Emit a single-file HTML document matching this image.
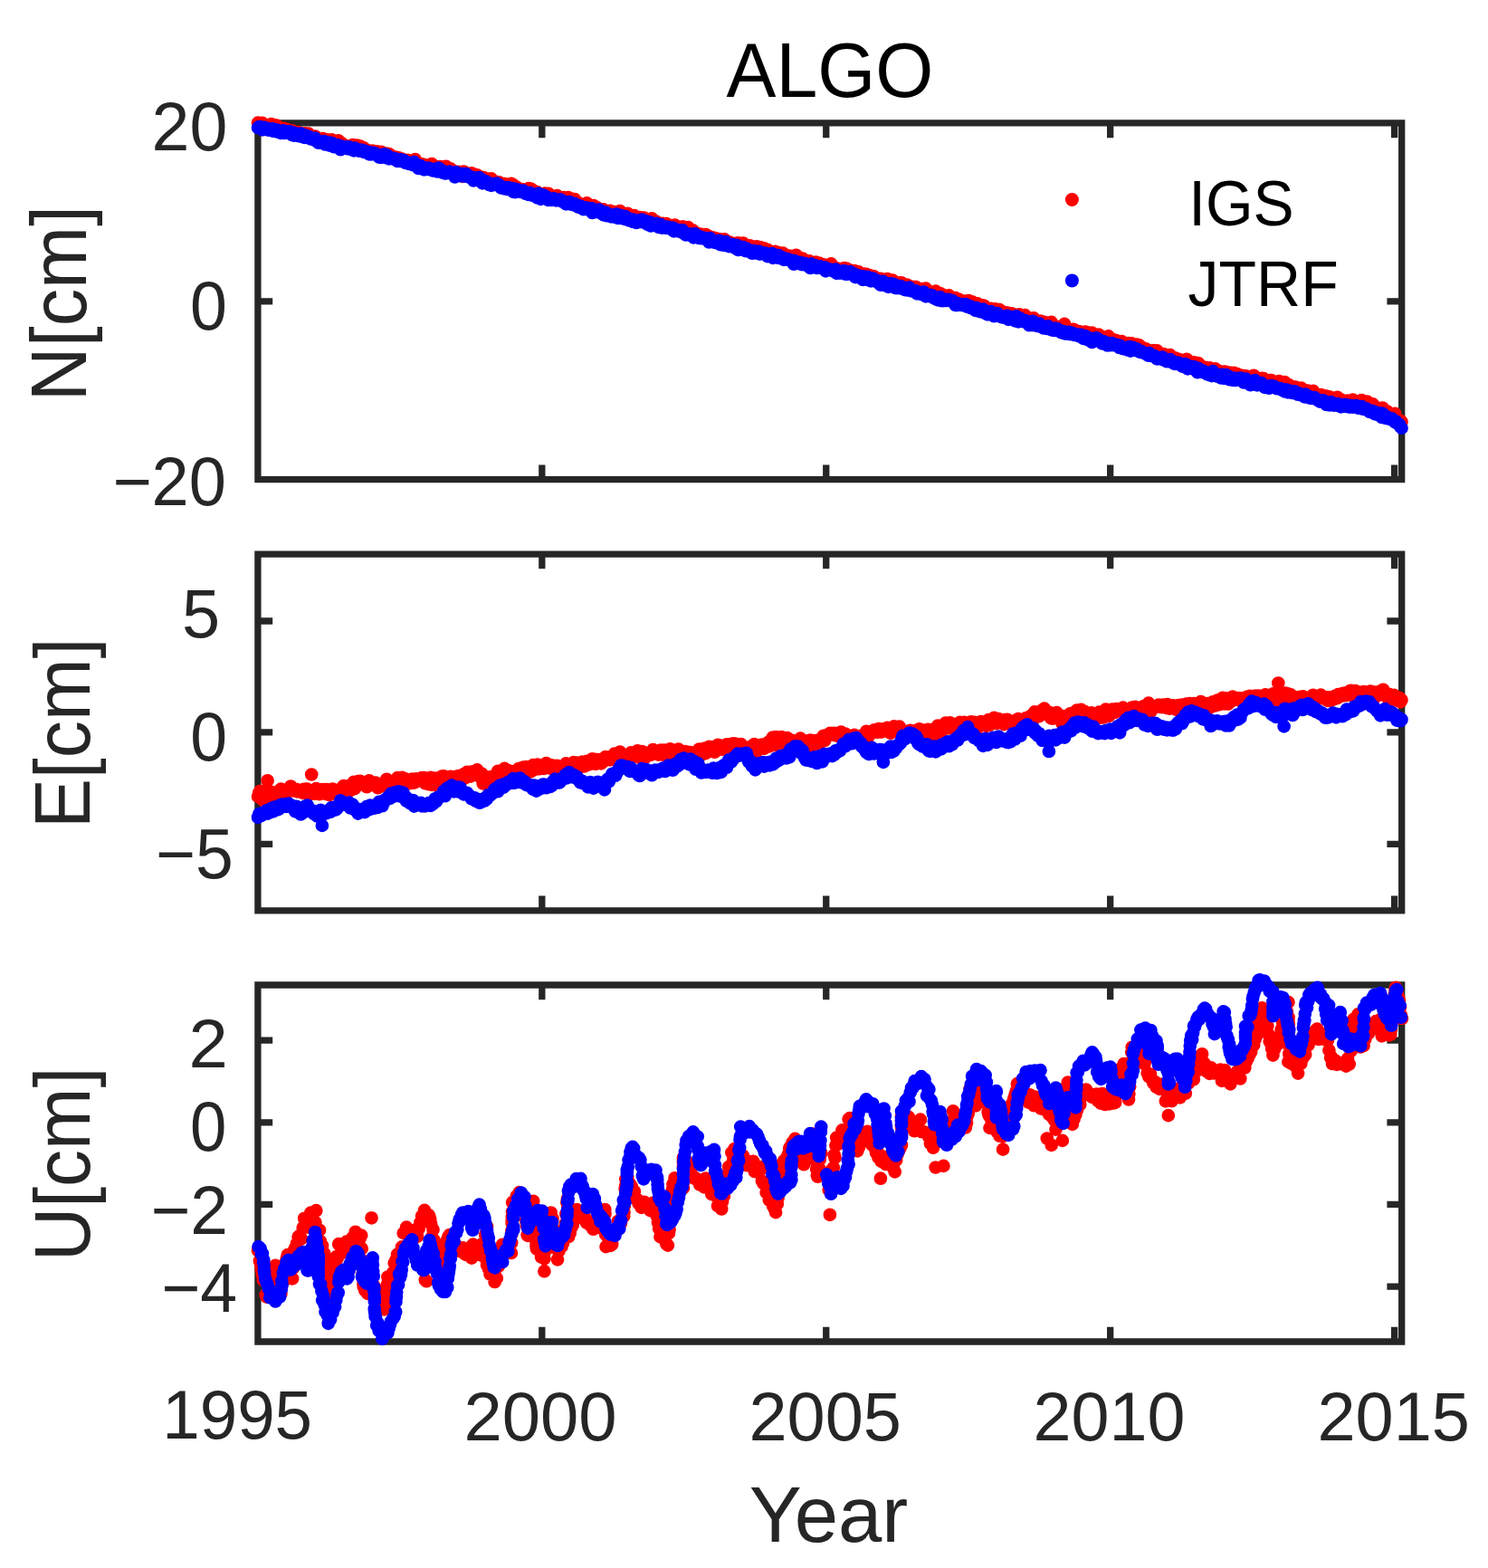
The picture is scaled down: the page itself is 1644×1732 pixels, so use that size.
<!DOCTYPE html>
<html><head><meta charset="utf-8"><title>ALGO</title>
<style>html,body{margin:0;padding:0;background:#fff;}svg{display:block;font-family:"Liberation Sans",Arial,Helvetica,sans-serif;}</style>
</head><body>
<svg width="1644" height="1732" viewBox="0 0 1644 1732">
<rect width="1644" height="1732" fill="#fff"/>
<path d="M284.90 135.90L1548.70 135.90M284.90 529.70L1548.70 529.70M284.90 135.90L284.90 529.70M1548.70 135.90L1548.70 529.70M284.90 529.70L284.90 517.06M284.90 135.90L284.90 148.54M598.82 529.70L598.82 517.06M598.82 135.90L598.82 148.54M912.75 529.70L912.75 517.06M912.75 135.90L912.75 148.54M1226.67 529.70L1226.67 517.06M1226.67 135.90L1226.67 148.54M1540.60 529.70L1540.60 517.06M1540.60 135.90L1540.60 148.54M284.90 135.90L297.54 135.90M1548.70 135.90L1536.06 135.90M284.90 332.80L297.54 332.80M1548.70 332.80L1536.06 332.80M284.90 529.70L297.54 529.70M1548.70 529.70L1536.06 529.70M284.90 612.05L1548.70 612.05M284.90 1005.90L1548.70 1005.90M284.90 612.05L284.90 1005.90M1548.70 612.05L1548.70 1005.90M284.90 1005.90L284.90 993.26M284.90 612.05L284.90 624.69M598.82 1005.90L598.82 993.26M598.82 612.05L598.82 624.69M912.75 1005.90L912.75 993.26M912.75 612.05L912.75 624.69M1226.67 1005.90L1226.67 993.26M1226.67 612.05L1226.67 624.69M1540.60 1005.90L1540.60 993.26M1540.60 612.05L1540.60 624.69M284.90 686.00L297.54 686.00M1548.70 686.00L1536.06 686.00M284.90 808.80L297.54 808.80M1548.70 808.80L1536.06 808.80M284.90 932.30L297.54 932.30M1548.70 932.30L1536.06 932.30M284.90 1088.00L1548.70 1088.00M284.90 1482.00L1548.70 1482.00M284.90 1088.00L284.90 1482.00M1548.70 1088.00L1548.70 1482.00M284.90 1482.00L284.90 1469.36M284.90 1088.00L284.90 1100.64M598.82 1482.00L598.82 1469.36M598.82 1088.00L598.82 1100.64M912.75 1482.00L912.75 1469.36M912.75 1088.00L912.75 1100.64M1226.67 1482.00L1226.67 1469.36M1226.67 1088.00L1226.67 1100.64M1540.60 1482.00L1540.60 1469.36M1540.60 1088.00L1540.60 1100.64M284.90 1149.20L297.54 1149.20M1548.70 1149.20L1536.06 1149.20M284.90 1239.80L297.54 1239.80M1548.70 1239.80L1536.06 1239.80M284.90 1330.30L297.54 1330.30M1548.70 1330.30L1536.06 1330.30M284.90 1421.10L297.54 1421.10M1548.70 1421.10L1536.06 1421.10" stroke="#262626" stroke-width="7.3" stroke-linecap="square" fill="none"/>
<path d="M285.0 135.6h0M286.2 137.0h0M287.4 136.3h0M288.6 136.4h0M289.9 135.9h0M291.1 137.2h0M292.3 139.3h0M293.5 138.7h0M294.7 139.8h0M295.9 139.0h0M297.1 139.5h0M298.4 139.5h0M299.6 137.2h0M300.8 141.1h0M302.0 140.9h0M303.2 141.1h0M304.4 138.4h0M305.6 138.6h0M306.9 140.1h0M308.1 141.0h0M309.3 142.4h0M310.5 142.2h0M311.7 143.3h0M312.9 141.9h0M314.1 143.6h0M315.4 144.0h0M316.6 142.8h0M317.8 146.4h0M319.0 145.1h0M320.2 146.3h0M321.4 144.1h0M322.7 144.3h0M323.9 145.2h0M325.1 145.9h0M326.3 147.3h0M327.5 147.1h0M328.8 146.4h0M330.0 146.1h0M331.2 147.0h0M332.4 149.8h0M333.6 147.3h0M334.8 149.1h0M336.1 149.7h0M337.3 147.4h0M338.5 149.9h0M339.7 152.0h0M340.9 147.7h0M342.2 150.4h0M343.4 151.0h0M344.6 150.4h0M345.8 152.6h0M347.0 152.1h0M348.2 150.5h0M349.5 154.1h0M350.7 154.2h0M351.9 154.9h0M353.1 155.9h0M354.3 154.8h0M355.6 154.8h0M356.8 153.1h0M358.0 156.2h0M359.2 154.7h0M360.4 155.2h0M361.7 154.3h0M362.9 155.0h0M364.1 155.9h0M365.3 158.7h0M366.5 154.4h0M367.8 155.4h0M369.0 158.1h0M370.2 160.0h0M371.4 159.1h0M372.6 155.9h0M373.8 155.3h0M375.1 159.6h0M376.3 158.3h0M377.5 158.1h0M378.7 161.3h0M379.9 161.7h0M381.2 160.7h0M382.4 161.1h0M383.6 161.6h0M384.8 163.5h0M386.0 162.4h0M387.2 162.5h0M388.5 162.9h0M389.7 160.2h0M390.9 164.4h0M392.1 164.2h0M393.3 163.9h0M394.6 160.7h0M395.8 162.8h0M397.0 165.2h0M398.2 161.7h0M399.4 164.3h0M400.6 166.3h0M401.8 163.3h0M403.0 167.7h0M404.3 166.5h0M405.5 165.8h0M406.7 166.7h0M407.9 167.5h0M409.1 167.0h0M410.3 168.8h0M411.5 166.5h0M412.7 167.1h0M413.9 169.5h0M415.1 168.3h0M416.4 167.4h0M417.6 170.2h0M418.8 171.2h0M420.0 168.8h0M421.2 167.8h0M422.4 169.8h0M423.6 170.1h0M424.8 170.2h0M426.0 172.9h0M427.2 169.7h0M428.4 173.2h0M429.7 170.0h0M430.9 170.9h0M432.1 173.2h0M433.3 174.2h0M434.5 174.1h0M435.7 173.7h0M436.9 173.7h0M438.1 174.1h0M439.3 175.0h0M440.6 174.3h0M441.8 175.3h0M443.0 176.1h0M444.2 175.6h0M445.4 177.1h0M446.6 177.1h0M447.9 179.5h0M449.1 177.5h0M450.3 176.8h0M451.5 177.2h0M452.7 178.1h0M453.9 179.7h0M455.1 178.3h0M456.4 179.7h0M457.6 182.1h0M458.8 176.2h0M460.0 178.6h0M461.2 180.9h0M462.4 181.4h0M463.7 181.6h0M464.9 181.0h0M466.1 182.8h0M467.3 182.7h0M468.5 181.9h0M469.7 186.4h0M471.0 183.8h0M472.2 182.9h0M473.4 183.9h0M474.6 184.1h0M475.8 184.5h0M477.0 181.0h0M478.3 184.3h0M479.5 186.7h0M480.7 183.8h0M481.9 185.6h0M483.1 187.2h0M484.4 187.3h0M485.6 188.4h0M486.8 184.2h0M488.0 186.3h0M489.2 186.5h0M490.4 188.1h0M491.7 189.0h0M492.9 183.9h0M494.1 189.4h0M495.3 186.1h0M496.5 189.3h0M497.8 186.4h0M499.0 189.0h0M500.2 190.6h0M501.4 189.0h0M502.6 189.7h0M503.9 190.7h0M505.1 190.0h0M506.3 189.9h0M507.5 192.4h0M508.7 192.0h0M509.9 190.3h0M511.2 194.8h0M512.4 189.5h0M513.6 192.6h0M514.8 191.4h0M516.0 192.3h0M517.2 193.4h0M518.5 193.1h0M519.7 194.1h0M520.9 191.4h0M522.1 191.8h0M523.3 195.2h0M524.5 193.3h0M525.8 193.6h0M527.0 193.3h0M528.2 197.5h0M529.4 197.2h0M530.6 198.5h0M531.8 195.5h0M533.0 197.2h0M534.3 196.0h0M535.5 199.0h0M536.7 200.5h0M537.9 197.4h0M539.1 201.2h0M540.3 200.8h0M541.6 199.5h0M542.8 197.4h0M544.0 202.5h0M545.2 200.7h0M546.4 200.4h0M547.6 202.2h0M548.9 202.5h0M550.1 204.4h0M551.3 201.3h0M552.5 204.6h0M553.7 205.4h0M554.9 205.7h0M556.1 203.7h0M557.4 203.2h0M558.6 206.0h0M559.8 205.0h0M561.0 205.3h0M562.2 207.5h0M563.4 205.4h0M564.7 202.8h0M565.9 205.8h0M567.1 204.1h0M568.3 208.1h0M569.5 207.7h0M570.7 206.7h0M572.0 207.8h0M573.2 209.3h0M574.4 208.6h0M575.6 210.6h0M576.8 209.0h0M578.0 210.8h0M579.2 211.7h0M580.5 212.2h0M581.7 209.3h0M582.9 211.8h0M584.1 208.2h0M585.3 209.6h0M586.5 208.7h0M587.8 213.2h0M589.0 210.3h0M590.2 212.3h0M591.4 212.4h0M592.6 212.9h0M593.8 212.4h0M595.0 213.8h0M596.2 216.3h0M597.4 214.1h0M598.7 215.1h0M599.9 216.1h0M601.1 214.7h0M602.3 213.5h0M603.5 214.7h0M604.7 217.3h0M605.9 213.8h0M607.1 215.5h0M608.3 218.1h0M609.5 218.1h0M610.8 217.3h0M612.0 218.7h0M613.2 218.0h0M614.4 216.5h0M615.6 216.2h0M616.8 217.8h0M618.0 220.3h0M619.2 218.5h0M620.4 218.3h0M621.6 218.7h0M622.9 218.0h0M624.1 220.2h0M625.3 219.0h0M626.5 221.5h0M627.7 218.0h0M628.9 222.0h0M630.1 221.0h0M631.3 219.5h0M632.6 223.6h0M633.8 222.6h0M635.0 220.2h0M636.2 222.5h0M637.4 224.5h0M638.6 223.8h0M639.9 225.9h0M641.1 226.2h0M642.3 226.4h0M643.5 226.3h0M644.7 228.1h0M646.0 227.5h0M647.2 227.6h0M648.4 224.4h0M649.6 228.9h0M650.8 229.8h0M652.1 228.0h0M653.3 228.1h0M654.5 231.8h0M655.7 227.0h0M656.9 230.5h0M658.1 233.6h0M659.4 229.2h0M660.6 231.9h0M661.8 233.9h0M663.0 231.4h0M664.2 232.7h0M665.5 233.6h0M666.7 231.4h0M667.9 232.9h0M669.1 233.7h0M670.3 234.7h0M671.5 233.8h0M672.8 233.8h0M674.0 232.9h0M675.2 234.1h0M676.4 236.1h0M677.6 235.3h0M678.8 234.2h0M680.1 234.5h0M681.3 239.6h0M682.5 237.7h0M683.7 237.3h0M684.9 233.0h0M686.1 237.8h0M687.3 237.9h0M688.6 239.8h0M689.8 238.3h0M691.0 237.9h0M692.2 239.0h0M693.4 235.8h0M694.6 240.2h0M695.9 239.5h0M697.1 238.3h0M698.3 241.4h0M699.5 242.3h0M700.7 238.1h0M701.9 239.4h0M703.2 241.0h0M704.4 241.1h0M705.6 240.5h0M706.8 240.0h0M708.0 244.6h0M709.2 243.4h0M710.4 240.5h0M711.7 240.6h0M712.9 245.1h0M714.1 244.4h0M715.3 245.9h0M716.5 244.7h0M717.7 242.7h0M719.0 244.5h0M720.2 241.4h0M721.4 243.7h0M722.6 244.9h0M723.8 246.0h0M725.0 244.6h0M726.2 245.7h0M727.5 246.8h0M728.7 247.0h0M729.9 247.6h0M731.1 247.3h0M732.3 246.8h0M733.5 248.7h0M734.8 247.9h0M736.0 247.0h0M737.2 247.6h0M738.4 248.7h0M739.6 248.8h0M740.8 249.5h0M742.1 249.6h0M743.3 250.1h0M744.5 250.0h0M745.7 248.7h0M746.9 251.4h0M748.1 252.6h0M749.3 252.1h0M750.6 251.6h0M751.8 252.8h0M753.0 251.2h0M754.2 250.3h0M755.4 253.4h0M756.6 252.4h0M757.9 255.1h0M759.1 252.9h0M760.3 251.1h0M761.5 253.6h0M762.7 257.7h0M763.9 255.3h0M765.2 254.3h0M766.4 255.5h0M767.6 257.6h0M768.8 257.9h0M770.0 257.9h0M771.2 260.0h0M772.4 259.3h0M773.7 258.7h0M774.9 259.9h0M776.1 261.7h0M777.3 261.1h0M778.5 261.6h0M779.7 259.0h0M781.0 260.6h0M782.2 262.2h0M783.4 261.1h0M784.6 263.4h0M785.8 263.1h0M787.0 263.8h0M788.3 262.6h0M789.5 266.8h0M790.7 265.2h0M791.9 263.5h0M793.1 264.3h0M794.4 268.1h0M795.6 264.3h0M796.8 266.3h0M798.0 266.8h0M799.2 265.7h0M800.4 264.4h0M801.7 266.6h0M802.9 267.2h0M804.1 268.6h0M805.3 268.4h0M806.5 267.7h0M807.8 269.2h0M809.0 269.0h0M810.2 268.9h0M811.4 269.0h0M812.6 268.9h0M813.9 270.5h0M815.1 268.4h0M816.3 269.3h0M817.5 270.5h0M818.7 268.8h0M819.9 270.5h0M821.2 268.7h0M822.4 270.8h0M823.6 272.9h0M824.8 273.2h0M826.0 272.6h0M827.2 272.6h0M828.5 271.3h0M829.7 276.1h0M830.9 274.5h0M832.1 275.6h0M833.3 273.1h0M834.5 274.4h0M835.8 272.4h0M837.0 276.3h0M838.2 276.8h0M839.4 273.1h0M840.6 276.0h0M841.8 277.3h0M843.0 274.2h0M844.3 274.4h0M845.5 275.7h0M846.7 276.6h0M847.9 275.8h0M849.1 278.1h0M850.3 278.7h0M851.6 279.5h0M852.8 279.9h0M854.0 281.3h0M855.2 281.1h0M856.4 277.9h0M857.6 279.4h0M858.9 278.9h0M860.1 279.1h0M861.3 280.8h0M862.5 281.2h0M863.7 282.2h0M864.9 279.6h0M866.1 280.4h0M867.4 282.4h0M868.6 282.5h0M869.8 282.7h0M871.0 283.3h0M872.2 282.7h0M873.4 285.0h0M874.7 284.9h0M875.9 284.6h0M877.1 284.1h0M878.3 285.1h0M879.5 281.8h0M880.7 284.6h0M882.0 286.3h0M883.2 284.5h0M884.4 287.2h0M885.6 287.5h0M886.8 285.6h0M888.0 287.5h0M889.2 287.8h0M890.5 289.2h0M891.7 289.7h0M892.9 289.1h0M894.1 288.3h0M895.3 289.6h0M896.5 290.0h0M897.8 291.5h0M899.0 291.2h0M900.2 290.1h0M901.4 289.5h0M902.6 291.1h0M903.8 290.8h0M905.0 290.5h0M906.2 292.2h0M907.4 291.9h0M908.7 293.0h0M909.9 293.8h0M911.1 292.7h0M912.3 296.8h0M913.5 293.3h0M914.7 295.5h0M915.9 294.4h0M917.1 296.0h0M918.3 291.4h0M919.5 293.9h0M920.8 295.5h0M922.0 296.2h0M923.2 298.9h0M924.4 296.3h0M925.6 297.9h0M926.8 297.4h0M928.0 297.9h0M929.2 297.5h0M930.4 296.8h0M931.6 298.0h0M932.9 296.0h0M934.1 299.4h0M935.3 296.6h0M936.5 298.6h0M937.7 301.4h0M938.9 298.4h0M940.1 299.1h0M941.3 301.0h0M942.6 299.8h0M943.8 299.0h0M945.0 300.8h0M946.2 301.6h0M947.4 302.1h0M948.6 300.4h0M949.9 304.3h0M951.1 304.5h0M952.3 302.6h0M953.5 303.3h0M954.7 302.6h0M956.0 305.6h0M957.2 302.9h0M958.4 305.2h0M959.6 304.0h0M960.8 304.0h0M962.1 306.3h0M963.3 307.6h0M964.5 306.0h0M965.7 305.4h0M966.9 307.9h0M968.1 307.0h0M969.4 307.9h0M970.6 309.9h0M971.8 309.7h0M973.0 307.8h0M974.2 312.0h0M975.5 309.2h0M976.7 310.6h0M977.9 309.0h0M979.1 310.1h0M980.3 308.0h0M981.5 313.3h0M982.8 313.0h0M984.0 309.7h0M985.2 309.6h0M986.4 309.7h0M987.6 313.9h0M988.8 311.9h0M990.1 312.8h0M991.3 312.7h0M992.5 313.3h0M993.7 312.3h0M994.9 314.1h0M996.1 312.4h0M997.3 314.6h0M998.6 315.4h0M999.8 315.9h0M1001.0 315.3h0M1002.2 314.6h0M1003.4 316.4h0M1004.6 315.8h0M1005.9 319.0h0M1007.1 318.1h0M1008.3 317.2h0M1009.5 317.0h0M1010.7 317.0h0M1011.9 317.0h0M1013.2 318.1h0M1014.4 319.3h0M1015.6 319.9h0M1016.8 320.3h0M1018.0 322.8h0M1019.2 319.2h0M1020.4 320.5h0M1021.7 324.8h0M1022.9 318.6h0M1024.1 320.8h0M1025.3 322.1h0M1026.5 322.4h0M1027.7 323.1h0M1029.0 322.6h0M1030.2 323.8h0M1031.4 323.7h0M1032.6 325.0h0M1033.8 321.6h0M1035.0 323.4h0M1036.2 325.0h0M1037.5 323.9h0M1038.7 324.2h0M1039.9 326.9h0M1041.1 325.4h0M1042.3 327.6h0M1043.5 328.1h0M1044.8 327.8h0M1046.0 328.4h0M1047.2 327.9h0M1048.4 326.4h0M1049.6 328.7h0M1050.8 329.7h0M1052.1 328.7h0M1053.3 329.6h0M1054.5 331.2h0M1055.7 329.2h0M1056.9 331.7h0M1058.1 333.8h0M1059.3 330.7h0M1060.6 332.1h0M1061.8 332.0h0M1063.0 334.7h0M1064.2 333.4h0M1065.4 334.5h0M1066.6 332.6h0M1067.9 333.9h0M1069.1 334.3h0M1070.3 332.2h0M1071.5 337.0h0M1072.7 336.6h0M1073.9 333.3h0M1075.2 337.1h0M1076.4 336.2h0M1077.6 337.4h0M1078.8 337.6h0M1080.0 335.4h0M1081.2 337.5h0M1082.4 340.2h0M1083.7 337.7h0M1084.9 337.4h0M1086.1 337.3h0M1087.3 337.8h0M1088.5 340.4h0M1089.7 342.6h0M1091.0 341.2h0M1092.2 341.3h0M1093.4 344.4h0M1094.6 340.9h0M1095.8 341.0h0M1097.0 343.0h0M1098.3 343.3h0M1099.5 341.4h0M1100.7 341.5h0M1101.9 343.9h0M1103.1 344.1h0M1104.3 342.2h0M1105.6 344.1h0M1106.8 343.9h0M1108.0 345.6h0M1109.2 345.1h0M1110.4 345.4h0M1111.7 345.4h0M1112.9 347.6h0M1114.1 348.4h0M1115.3 346.2h0M1116.5 348.2h0M1117.8 346.3h0M1119.0 347.8h0M1120.2 349.0h0M1121.4 350.4h0M1122.6 348.0h0M1123.8 348.7h0M1125.1 349.4h0M1126.3 347.4h0M1127.5 349.8h0M1128.7 349.1h0M1129.9 350.9h0M1131.2 349.1h0M1132.4 348.2h0M1133.6 351.3h0M1134.8 351.9h0M1136.0 351.1h0M1137.2 353.5h0M1138.5 352.2h0M1139.7 352.1h0M1140.9 353.9h0M1142.1 351.4h0M1143.3 352.9h0M1144.5 354.2h0M1145.8 355.7h0M1147.0 354.7h0M1148.2 355.7h0M1149.4 354.6h0M1150.6 356.3h0M1151.8 358.5h0M1153.0 355.6h0M1154.3 360.2h0M1155.5 356.3h0M1156.7 357.6h0M1157.9 358.1h0M1159.1 359.6h0M1160.3 356.8h0M1161.6 355.9h0M1162.8 360.0h0M1164.0 360.6h0M1165.2 360.7h0M1166.4 363.9h0M1167.6 360.8h0M1168.9 361.2h0M1170.1 362.5h0M1171.3 362.0h0M1172.5 364.2h0M1173.7 360.4h0M1174.9 361.9h0M1176.1 357.9h0M1177.4 364.1h0M1178.6 362.8h0M1179.8 364.9h0M1181.0 366.9h0M1182.2 364.1h0M1183.4 364.1h0M1184.7 364.0h0M1185.9 363.8h0M1187.1 364.4h0M1188.3 366.5h0M1189.5 365.9h0M1190.7 366.2h0M1192.0 366.2h0M1193.2 368.0h0M1194.4 367.7h0M1195.6 367.1h0M1196.8 368.5h0M1198.0 367.7h0M1199.2 366.5h0M1200.5 370.5h0M1201.7 369.4h0M1202.9 367.7h0M1204.1 370.8h0M1205.3 370.1h0M1206.5 367.7h0M1207.8 372.4h0M1209.0 370.9h0M1210.2 372.0h0M1211.4 371.3h0M1212.6 371.1h0M1213.8 369.5h0M1215.0 373.3h0M1216.2 372.3h0M1217.5 372.2h0M1218.7 373.4h0M1219.9 373.3h0M1221.1 374.4h0M1222.3 373.3h0M1223.5 374.1h0M1224.7 371.4h0M1225.9 374.1h0M1227.2 376.0h0M1228.4 377.2h0M1229.6 375.2h0M1230.8 375.8h0M1232.0 378.5h0M1233.2 376.1h0M1234.4 377.9h0M1235.6 379.6h0M1236.8 377.6h0M1238.1 379.5h0M1239.3 377.1h0M1240.5 378.7h0M1241.7 378.6h0M1242.9 379.2h0M1244.1 380.9h0M1245.3 383.0h0M1246.5 379.0h0M1247.8 379.5h0M1249.0 381.3h0M1250.2 379.4h0M1251.4 381.9h0M1252.6 382.3h0M1253.8 381.5h0M1255.0 383.1h0M1256.3 380.6h0M1257.5 384.2h0M1258.7 381.4h0M1259.9 383.0h0M1261.1 383.6h0M1262.3 384.2h0M1263.6 386.4h0M1264.8 385.7h0M1266.0 385.4h0M1267.2 387.1h0M1268.4 389.0h0M1269.6 387.2h0M1270.9 388.1h0M1272.1 389.7h0M1273.3 388.8h0M1274.5 387.0h0M1275.7 392.7h0M1276.9 392.7h0M1278.2 387.3h0M1279.4 390.4h0M1280.6 391.4h0M1281.8 392.6h0M1283.0 392.6h0M1284.2 391.7h0M1285.5 391.0h0M1286.7 393.0h0M1287.9 394.7h0M1289.1 392.2h0M1290.3 392.6h0M1291.5 394.5h0M1292.8 392.2h0M1294.0 394.9h0M1295.2 395.1h0M1296.4 396.7h0M1297.6 395.4h0M1298.8 395.5h0M1300.1 396.5h0M1301.3 397.4h0M1302.5 396.9h0M1303.7 398.2h0M1304.9 399.5h0M1306.1 400.5h0M1307.3 401.6h0M1308.6 398.4h0M1309.8 399.3h0M1311.0 396.8h0M1312.2 403.2h0M1313.4 399.9h0M1314.6 401.2h0M1315.8 402.4h0M1317.1 400.1h0M1318.3 403.0h0M1319.5 402.6h0M1320.7 400.5h0M1321.9 403.8h0M1323.1 405.4h0M1324.3 401.4h0M1325.6 405.5h0M1326.8 405.0h0M1328.0 405.8h0M1329.2 406.1h0M1330.4 407.6h0M1331.6 405.8h0M1332.8 407.7h0M1334.1 406.3h0M1335.3 408.2h0M1336.5 406.4h0M1337.7 407.7h0M1338.9 410.6h0M1340.1 409.0h0M1341.4 408.5h0M1342.6 407.4h0M1343.8 408.1h0M1345.0 409.8h0M1346.2 411.1h0M1347.4 410.6h0M1348.7 411.1h0M1349.9 410.5h0M1351.1 412.8h0M1352.3 410.6h0M1353.5 410.6h0M1354.7 412.9h0M1356.0 412.0h0M1357.2 411.8h0M1358.4 411.7h0M1359.6 412.4h0M1360.8 413.9h0M1362.0 413.8h0M1363.3 411.9h0M1364.5 414.4h0M1365.7 414.4h0M1366.9 413.0h0M1368.1 415.7h0M1369.3 414.5h0M1370.6 414.7h0M1371.8 416.6h0M1373.0 417.6h0M1374.2 415.0h0M1375.4 416.9h0M1376.6 415.3h0M1377.9 420.1h0M1379.1 416.4h0M1380.3 419.0h0M1381.5 416.7h0M1382.7 419.0h0M1384.0 421.2h0M1385.2 414.8h0M1386.4 418.0h0M1387.6 419.6h0M1388.8 419.0h0M1390.0 418.4h0M1391.3 422.6h0M1392.5 420.0h0M1393.7 417.8h0M1394.9 421.6h0M1396.1 418.2h0M1397.3 422.5h0M1398.6 420.3h0M1399.8 421.6h0M1401.0 423.4h0M1402.2 422.0h0M1403.4 420.2h0M1404.6 420.0h0M1405.9 424.3h0M1407.1 423.9h0M1408.3 422.0h0M1409.5 424.6h0M1410.7 424.3h0M1411.9 424.8h0M1413.2 421.0h0M1414.4 424.0h0M1415.6 425.9h0M1416.8 425.9h0M1418.0 426.4h0M1419.2 422.0h0M1420.5 425.9h0M1421.7 426.6h0M1422.9 429.7h0M1424.1 425.2h0M1425.3 426.4h0M1426.6 427.3h0M1427.8 428.9h0M1429.0 427.4h0M1430.2 430.0h0M1431.4 427.7h0M1432.6 429.6h0M1433.9 428.8h0M1435.1 430.2h0M1436.3 429.4h0M1437.5 428.5h0M1438.7 432.6h0M1439.9 431.9h0M1441.2 431.1h0M1442.4 432.5h0M1443.6 434.0h0M1444.8 431.6h0M1446.0 433.2h0M1447.2 434.5h0M1448.5 434.9h0M1449.7 434.0h0M1450.9 431.9h0M1452.1 437.0h0M1453.3 436.1h0M1454.5 436.0h0M1455.8 436.0h0M1457.0 437.1h0M1458.2 436.6h0M1459.4 436.1h0M1460.6 436.9h0M1461.8 437.5h0M1463.1 437.8h0M1464.3 437.4h0M1465.5 440.3h0M1466.7 437.8h0M1467.9 440.7h0M1469.2 438.6h0M1470.4 440.7h0M1471.6 442.3h0M1472.8 440.9h0M1474.0 439.8h0M1475.2 441.0h0M1476.5 441.4h0M1477.7 438.9h0M1478.9 440.7h0M1480.1 442.0h0M1481.3 441.3h0M1482.5 442.3h0M1483.8 443.4h0M1485.0 443.6h0M1486.2 444.0h0M1487.4 443.7h0M1488.6 442.7h0M1489.8 443.3h0M1491.1 443.1h0M1492.3 443.3h0M1493.5 443.6h0M1494.7 441.7h0M1495.9 443.8h0M1497.1 444.4h0M1498.4 443.3h0M1499.6 444.8h0M1500.8 445.8h0M1502.0 445.0h0M1503.2 448.3h0M1504.4 442.0h0M1505.7 445.5h0M1506.9 443.5h0M1508.1 447.6h0M1509.3 450.4h0M1510.6 443.6h0M1511.8 447.8h0M1513.0 448.8h0M1514.2 448.1h0M1515.5 449.8h0M1516.7 446.4h0M1517.9 451.2h0M1519.1 451.0h0M1520.4 450.9h0M1521.6 450.6h0M1522.8 452.7h0M1524.0 451.6h0M1525.3 453.1h0M1526.5 452.5h0M1527.7 450.6h0M1529.0 454.2h0M1530.2 454.9h0M1531.4 456.2h0M1532.6 454.4h0M1533.9 456.0h0M1535.1 457.4h0M1536.3 457.2h0M1537.5 459.2h0M1538.8 460.7h0M1540.0 457.2h0M1541.2 456.9h0M1542.4 462.0h0M1543.6 464.2h0M1544.9 464.6h0M1546.1 465.6h0M1547.3 464.8h0M1548.5 465.9h0" stroke="#ff0000" stroke-width="14.70" stroke-linecap="round" fill="none"/>
<path d="M285.0 879.9h0M286.2 875.8h0M287.4 873.8h0M288.6 875.6h0M289.8 883.2h0M291.1 881.9h0M292.3 876.1h0M293.5 875.9h0M294.7 878.0h0M295.9 875.8h0M297.1 880.3h0M298.3 877.2h0M299.5 874.9h0M300.7 880.1h0M301.9 875.9h0M303.1 877.6h0M304.4 877.1h0M305.6 876.4h0M306.8 877.7h0M308.0 875.4h0M309.2 872.8h0M310.4 871.7h0M311.6 873.4h0M312.8 874.1h0M314.0 875.3h0M315.2 875.1h0M316.4 875.9h0M317.6 874.5h0M318.8 872.1h0M320.0 871.9h0M321.2 868.5h0M322.4 872.4h0M323.6 873.4h0M324.8 873.2h0M326.0 871.9h0M327.2 871.9h0M328.4 874.4h0M329.6 872.5h0M330.9 874.2h0M332.1 874.0h0M333.3 873.3h0M334.5 875.9h0M335.7 871.9h0M336.9 872.5h0M338.1 871.6h0M339.4 871.7h0M340.6 877.0h0M341.8 877.6h0M343.0 873.9h0M344.2 875.3h0M345.4 876.6h0M346.7 875.8h0M347.9 876.7h0M349.2 871.2h0M350.4 872.6h0M351.7 875.0h0M352.9 877.2h0M354.2 874.2h0M355.4 872.1h0M356.7 873.2h0M357.9 872.5h0M359.1 872.0h0M360.3 877.1h0M361.5 872.2h0M362.8 873.5h0M364.0 878.1h0M365.2 875.9h0M366.4 873.9h0M367.6 871.7h0M368.8 873.8h0M370.0 876.3h0M371.2 874.0h0M372.4 875.3h0M373.7 872.6h0M374.9 873.4h0M376.1 871.7h0M377.3 872.9h0M378.5 874.4h0M379.7 868.0h0M381.0 870.6h0M382.2 870.8h0M383.4 868.6h0M384.6 868.8h0M385.8 870.8h0M387.1 873.0h0M388.3 869.6h0M389.5 868.5h0M390.7 863.9h0M391.9 871.1h0M393.1 866.6h0M394.4 866.0h0M395.6 863.2h0M396.8 865.1h0M398.0 862.9h0M399.2 865.6h0M400.5 866.6h0M401.7 865.8h0M402.9 866.4h0M404.1 864.1h0M405.3 869.2h0M406.6 864.8h0M407.8 862.3h0M409.0 866.0h0M410.2 864.9h0M411.4 864.5h0M412.6 866.0h0M413.9 867.6h0M415.1 864.5h0M416.3 866.9h0M417.5 870.2h0M418.7 868.5h0M419.9 866.5h0M421.1 867.0h0M422.4 866.3h0M423.6 866.3h0M424.8 867.9h0M426.0 866.0h0M427.2 860.8h0M428.4 865.9h0M429.6 863.9h0M430.9 867.1h0M432.1 864.2h0M433.3 865.8h0M434.5 870.1h0M435.7 862.9h0M436.9 862.4h0M438.1 861.5h0M439.4 859.0h0M440.6 859.8h0M441.8 864.5h0M443.0 862.0h0M444.2 858.9h0M445.4 859.5h0M446.7 863.8h0M447.9 860.4h0M449.1 861.0h0M450.3 862.3h0M451.5 864.2h0M452.8 865.2h0M454.0 862.9h0M455.2 860.6h0M456.4 860.9h0M457.6 864.6h0M458.8 864.0h0M460.1 860.4h0M461.3 862.2h0M462.5 862.1h0M463.7 861.7h0M464.9 860.7h0M466.1 859.1h0M467.3 861.0h0M468.5 859.0h0M469.8 865.2h0M471.0 863.9h0M472.2 860.3h0M473.4 866.2h0M474.6 865.3h0M475.8 858.9h0M477.0 866.9h0M478.3 864.4h0M479.5 867.0h0M480.7 859.5h0M481.9 863.2h0M483.1 862.7h0M484.4 862.0h0M485.6 861.7h0M486.8 863.4h0M488.0 857.6h0M489.2 857.9h0M490.4 857.4h0M491.7 859.0h0M492.9 858.7h0M494.1 860.6h0M495.3 860.2h0M496.5 859.6h0M497.8 857.9h0M499.0 858.2h0M500.2 861.1h0M501.4 860.6h0M502.6 859.0h0M503.9 857.9h0M505.1 861.9h0M506.3 857.0h0M507.5 859.6h0M508.7 860.5h0M509.9 857.3h0M511.2 859.5h0M512.4 855.1h0M513.6 859.6h0M514.8 857.3h0M516.1 852.9h0M517.3 857.3h0M518.5 853.3h0M519.8 857.6h0M521.0 852.7h0M522.3 853.3h0M523.5 853.8h0M524.7 851.9h0M526.0 852.7h0M527.2 850.4h0M528.5 855.3h0M529.8 856.1h0M531.1 858.9h0M532.4 854.6h0M533.7 865.5h0M535.0 865.3h0M536.2 860.4h0M537.5 863.6h0M538.8 863.5h0M540.0 864.0h0M541.2 858.3h0M542.5 863.2h0M543.8 858.5h0M545.0 863.3h0M546.2 856.8h0M547.5 857.7h0M548.8 854.5h0M550.0 851.9h0M551.2 855.9h0M552.5 854.6h0M553.7 856.0h0M554.9 854.5h0M556.1 851.3h0M557.4 848.9h0M558.6 851.2h0M559.8 851.1h0M561.0 850.8h0M562.2 853.9h0M563.4 853.3h0M564.6 852.0h0M565.8 853.0h0M567.0 852.3h0M568.3 853.1h0M569.5 854.3h0M570.7 854.7h0M571.9 851.1h0M573.1 849.0h0M574.3 855.1h0M575.6 851.9h0M576.8 853.8h0M578.0 847.5h0M579.2 850.0h0M580.4 850.5h0M581.6 847.0h0M582.9 848.7h0M584.1 851.1h0M585.3 851.6h0M586.5 852.4h0M587.7 846.7h0M589.0 845.2h0M590.2 849.2h0M591.4 849.8h0M592.6 848.1h0M593.8 844.7h0M595.0 849.2h0M596.2 849.2h0M597.4 848.6h0M598.7 846.2h0M599.9 847.9h0M601.1 848.9h0M602.3 845.9h0M603.5 843.0h0M604.7 847.7h0M605.9 848.0h0M607.1 846.9h0M608.3 848.7h0M609.5 845.4h0M610.7 846.5h0M611.9 845.9h0M613.2 847.8h0M614.4 850.0h0M615.6 845.8h0M616.8 850.9h0M618.0 849.6h0M619.2 847.9h0M620.4 847.4h0M621.6 849.9h0M622.9 845.6h0M624.1 845.6h0M625.3 843.4h0M626.5 846.7h0M627.7 848.6h0M628.9 846.7h0M630.1 846.4h0M631.4 844.9h0M632.6 845.7h0M633.8 842.1h0M635.0 847.4h0M636.2 844.1h0M637.5 842.5h0M638.7 843.2h0M639.9 843.0h0M641.1 846.6h0M642.3 846.9h0M643.5 841.5h0M644.8 846.5h0M646.0 846.3h0M647.2 843.0h0M648.4 840.9h0M649.6 842.3h0M650.8 842.2h0M652.0 844.1h0M653.3 842.3h0M654.5 838.3h0M655.7 843.0h0M656.9 838.8h0M658.1 843.9h0M659.4 839.0h0M660.6 839.8h0M661.8 839.2h0M663.0 839.6h0M664.2 843.4h0M665.4 842.1h0M666.6 841.3h0M667.9 840.4h0M669.1 836.0h0M670.3 838.0h0M671.5 837.6h0M672.7 836.4h0M674.0 839.4h0M675.2 836.3h0M676.4 836.1h0M677.6 835.1h0M678.8 832.7h0M680.0 838.4h0M681.2 839.8h0M682.5 837.1h0M683.7 834.4h0M684.9 830.5h0M686.1 836.6h0M687.3 838.8h0M688.5 836.6h0M689.8 837.8h0M691.0 838.9h0M692.2 837.9h0M693.4 834.3h0M694.6 837.4h0M695.9 836.7h0M697.1 831.4h0M698.3 833.7h0M699.5 831.3h0M700.7 834.1h0M701.9 835.4h0M703.1 831.6h0M704.4 829.3h0M705.6 836.5h0M706.8 834.3h0M708.0 836.5h0M709.3 830.2h0M710.5 835.2h0M711.7 837.2h0M712.9 836.9h0M714.2 831.8h0M715.4 832.7h0M716.6 831.5h0M717.8 833.8h0M719.1 833.7h0M720.3 831.4h0M721.5 828.0h0M722.7 832.5h0M724.0 829.6h0M725.2 831.8h0M726.4 830.8h0M727.6 833.6h0M728.9 832.3h0M730.1 828.6h0M731.3 830.5h0M732.5 833.7h0M733.7 828.7h0M734.9 831.0h0M736.2 832.7h0M737.4 833.0h0M738.6 831.4h0M739.8 827.5h0M741.0 827.7h0M742.2 831.1h0M743.4 831.6h0M744.6 836.4h0M745.8 829.0h0M747.0 833.5h0M748.3 832.8h0M749.5 827.5h0M750.7 829.5h0M751.9 831.8h0M753.1 830.4h0M754.3 831.3h0M755.5 832.7h0M756.7 830.0h0M757.9 832.9h0M759.1 830.6h0M760.4 830.9h0M761.6 833.4h0M762.8 831.0h0M764.0 833.0h0M765.2 836.0h0M766.4 832.2h0M767.6 831.5h0M768.9 833.0h0M770.1 830.2h0M771.3 833.1h0M772.5 827.5h0M773.7 831.3h0M774.9 828.5h0M776.1 827.5h0M777.4 832.8h0M778.6 826.6h0M779.8 832.0h0M781.0 829.2h0M782.2 830.6h0M783.5 824.9h0M784.7 829.3h0M785.9 829.5h0M787.1 825.7h0M788.3 825.3h0M789.5 830.7h0M790.8 825.3h0M792.0 823.6h0M793.2 822.8h0M794.4 824.8h0M795.6 824.6h0M796.8 824.4h0M798.0 827.9h0M799.3 823.6h0M800.5 825.4h0M801.7 827.7h0M802.9 822.4h0M804.1 827.1h0M805.4 828.9h0M806.6 822.0h0M807.8 822.7h0M809.0 823.0h0M810.2 821.3h0M811.4 826.5h0M812.6 821.5h0M813.9 826.8h0M815.1 829.1h0M816.3 822.4h0M817.5 825.4h0M818.7 822.0h0M820.0 828.1h0M821.2 824.8h0M822.4 826.0h0M823.6 826.8h0M824.8 827.9h0M826.0 825.9h0M827.2 826.6h0M828.5 825.3h0M829.7 826.8h0M830.9 823.9h0M832.1 826.6h0M833.3 822.1h0M834.5 825.3h0M835.7 830.5h0M836.9 826.5h0M838.1 823.5h0M839.4 826.8h0M840.6 824.0h0M841.8 822.5h0M843.0 824.5h0M844.2 826.9h0M845.4 825.4h0M846.6 823.6h0M847.8 821.0h0M849.0 819.8h0M850.2 824.4h0M851.4 821.2h0M852.6 817.8h0M853.8 814.5h0M855.0 815.3h0M856.2 823.0h0M857.4 814.2h0M858.6 815.8h0M859.8 816.8h0M861.1 816.3h0M862.3 816.3h0M863.5 814.2h0M864.7 815.2h0M866.0 821.5h0M867.2 816.5h0M868.4 820.3h0M869.6 815.0h0M870.9 818.4h0M872.1 819.9h0M873.3 821.9h0M874.5 817.5h0M875.8 821.6h0M877.0 821.4h0M878.2 819.3h0M879.4 822.2h0M880.7 819.5h0M881.9 820.0h0M883.1 821.6h0M884.3 815.6h0M885.6 821.2h0M886.8 819.1h0M888.0 818.0h0M889.2 820.2h0M890.4 822.6h0M891.6 820.0h0M892.9 823.5h0M894.1 818.1h0M895.3 817.6h0M896.5 823.8h0M897.7 821.1h0M899.0 822.2h0M900.2 818.2h0M901.4 821.7h0M902.6 819.9h0M903.8 820.2h0M905.0 818.3h0M906.2 820.3h0M907.4 815.7h0M908.6 814.5h0M909.8 812.8h0M911.1 818.0h0M912.3 813.3h0M913.5 812.1h0M914.7 811.7h0M915.9 812.3h0M917.1 809.9h0M918.3 811.5h0M919.5 810.2h0M920.7 810.6h0M921.9 809.9h0M923.1 812.3h0M924.4 811.5h0M925.6 812.9h0M926.8 813.4h0M928.0 813.9h0M929.2 808.5h0M930.5 812.4h0M931.7 812.0h0M932.9 815.7h0M934.1 810.7h0M935.3 812.8h0M936.5 814.0h0M937.8 814.1h0M939.0 817.2h0M940.2 814.3h0M941.4 817.6h0M942.6 812.5h0M943.8 811.9h0M945.1 818.8h0M946.3 817.3h0M947.5 817.7h0M948.7 817.1h0M949.9 817.2h0M951.2 812.8h0M952.4 816.9h0M953.6 813.0h0M954.8 815.7h0M956.1 813.0h0M957.3 807.8h0M958.5 808.7h0M959.7 813.3h0M961.0 809.9h0M962.2 808.6h0M963.4 809.4h0M964.6 807.2h0M965.9 806.3h0M967.1 807.1h0M968.3 806.5h0M969.5 808.9h0M970.8 805.0h0M972.0 808.3h0M973.2 808.4h0M974.4 808.3h0M975.6 807.1h0M976.8 805.2h0M978.0 805.4h0M979.2 805.0h0M980.4 803.9h0M981.6 805.5h0M982.8 804.5h0M984.0 809.7h0M985.3 807.4h0M986.5 805.4h0M987.7 802.4h0M988.9 806.7h0M990.1 806.1h0M991.3 804.8h0M992.5 804.9h0M993.7 802.6h0M994.9 809.0h0M996.1 807.8h0M997.3 813.8h0M998.5 808.1h0M999.7 807.8h0M1000.9 811.4h0M1002.2 808.5h0M1003.4 808.6h0M1004.6 807.4h0M1005.8 806.9h0M1007.0 811.6h0M1008.2 810.5h0M1009.5 812.1h0M1010.7 807.6h0M1011.9 808.5h0M1013.1 806.5h0M1014.3 810.6h0M1015.5 805.4h0M1016.8 809.7h0M1018.0 810.9h0M1019.2 811.7h0M1020.4 806.5h0M1021.6 811.0h0M1022.9 807.1h0M1024.1 807.0h0M1025.3 805.8h0M1026.5 811.2h0M1027.7 811.9h0M1028.9 806.6h0M1030.2 805.8h0M1031.4 806.3h0M1032.6 812.2h0M1033.8 808.5h0M1035.0 804.7h0M1036.2 801.5h0M1037.5 803.6h0M1038.7 807.2h0M1039.9 808.3h0M1041.1 803.2h0M1042.3 801.9h0M1043.6 801.9h0M1044.8 798.5h0M1046.0 804.2h0M1047.2 799.8h0M1048.4 804.5h0M1049.7 798.4h0M1050.9 799.3h0M1052.1 802.8h0M1053.3 800.4h0M1054.5 803.8h0M1055.7 802.1h0M1057.0 799.5h0M1058.2 803.4h0M1059.4 803.9h0M1060.6 797.8h0M1061.8 806.0h0M1063.0 803.1h0M1064.2 803.6h0M1065.5 797.8h0M1066.7 800.3h0M1067.9 801.1h0M1069.1 804.3h0M1070.3 798.7h0M1071.5 799.9h0M1072.8 797.4h0M1074.0 801.3h0M1075.2 802.6h0M1076.4 797.8h0M1077.6 799.9h0M1078.8 802.0h0M1080.0 804.1h0M1081.3 801.8h0M1082.5 799.3h0M1083.7 797.1h0M1084.9 797.3h0M1086.1 797.6h0M1087.3 799.1h0M1088.5 798.4h0M1089.8 801.9h0M1091.0 798.5h0M1092.2 795.2h0M1093.4 800.7h0M1094.6 799.1h0M1095.8 797.2h0M1097.0 795.4h0M1098.3 792.9h0M1099.5 794.8h0M1100.7 799.0h0M1101.9 795.2h0M1103.1 794.1h0M1104.3 797.4h0M1105.6 797.5h0M1106.8 798.3h0M1108.0 798.4h0M1109.2 800.1h0M1110.4 795.2h0M1111.7 799.2h0M1112.9 794.8h0M1114.1 798.5h0M1115.3 797.3h0M1116.5 797.3h0M1117.8 798.8h0M1119.0 796.5h0M1120.2 798.8h0M1121.4 798.2h0M1122.6 796.4h0M1123.8 794.8h0M1125.1 794.2h0M1126.3 794.6h0M1127.5 795.2h0M1128.7 795.4h0M1129.9 801.9h0M1131.2 796.7h0M1132.4 796.8h0M1133.6 793.1h0M1134.8 793.0h0M1136.0 793.4h0M1137.2 794.1h0M1138.4 791.0h0M1139.5 796.4h0M1140.7 791.2h0M1141.9 794.4h0M1143.1 786.4h0M1144.3 791.1h0M1145.5 791.3h0M1146.7 790.7h0M1147.9 791.2h0M1149.1 790.1h0M1150.2 789.4h0M1151.4 784.4h0M1152.6 786.6h0M1153.8 782.6h0M1155.0 788.7h0M1156.2 788.4h0M1157.5 787.7h0M1158.8 786.7h0M1160.0 787.7h0M1161.2 793.4h0M1162.5 793.6h0M1163.8 790.1h0M1165.0 793.4h0M1166.2 787.5h0M1167.5 787.2h0M1168.8 790.8h0M1170.0 790.3h0M1171.2 791.5h0M1172.5 793.5h0M1173.7 799.5h0M1174.9 791.2h0M1176.2 792.5h0M1177.4 792.7h0M1178.6 791.8h0M1179.8 793.7h0M1181.0 795.3h0M1182.2 788.4h0M1183.5 791.3h0M1184.7 790.1h0M1185.9 791.2h0M1187.1 786.8h0M1188.3 786.1h0M1189.6 784.6h0M1190.8 790.6h0M1192.0 789.6h0M1193.2 789.3h0M1194.5 783.9h0M1195.8 788.2h0M1197.0 787.4h0M1198.2 785.9h0M1199.5 786.9h0M1200.8 790.4h0M1202.0 790.0h0M1203.2 788.8h0M1204.5 789.9h0M1205.8 787.4h0M1207.0 788.8h0M1208.2 788.7h0M1209.5 789.8h0M1210.8 788.4h0M1212.0 788.2h0M1213.2 788.0h0M1214.4 786.7h0M1215.6 792.9h0M1216.8 789.0h0M1218.0 788.6h0M1219.2 792.5h0M1220.4 790.4h0M1221.6 783.7h0M1222.8 788.5h0M1224.0 788.7h0M1225.2 790.8h0M1226.4 789.4h0M1227.5 788.0h0M1228.7 783.6h0M1229.9 784.1h0M1231.1 786.4h0M1232.3 786.8h0M1233.5 783.2h0M1234.7 784.5h0M1235.9 784.3h0M1237.1 785.1h0M1238.3 785.5h0M1239.5 784.0h0M1240.7 781.7h0M1241.9 787.0h0M1243.1 787.7h0M1244.4 783.8h0M1245.6 786.1h0M1246.8 784.7h0M1248.1 785.0h0M1249.3 784.5h0M1250.5 781.6h0M1251.7 784.4h0M1253.0 785.2h0M1254.2 780.9h0M1255.4 787.0h0M1256.7 787.1h0M1257.9 786.4h0M1259.1 786.6h0M1260.4 783.7h0M1261.6 781.2h0M1262.8 780.5h0M1264.1 779.9h0M1265.3 781.8h0M1266.5 781.3h0M1267.7 782.7h0M1269.0 776.6h0M1270.2 786.0h0M1271.4 785.8h0M1272.7 780.6h0M1273.9 782.0h0M1275.1 781.5h0M1276.4 781.1h0M1277.6 780.0h0M1278.8 780.2h0M1280.0 778.7h0M1281.3 780.9h0M1282.5 780.4h0M1283.7 781.2h0M1284.9 778.6h0M1286.2 780.6h0M1287.4 780.6h0M1288.6 781.8h0M1289.8 778.2h0M1291.1 781.4h0M1292.3 782.7h0M1293.5 781.8h0M1294.8 779.7h0M1296.0 779.4h0M1297.2 780.0h0M1298.4 782.1h0M1299.7 783.9h0M1300.9 780.2h0M1302.1 779.1h0M1303.3 781.3h0M1304.6 780.9h0M1305.8 778.5h0M1307.0 778.8h0M1308.3 780.1h0M1309.5 781.7h0M1310.7 777.5h0M1311.9 777.8h0M1313.2 781.0h0M1314.4 777.1h0M1315.6 779.9h0M1316.8 780.4h0M1318.1 779.3h0M1319.3 777.2h0M1320.5 779.2h0M1321.8 778.5h0M1323.0 779.8h0M1324.2 777.2h0M1325.4 781.3h0M1326.7 775.1h0M1327.9 778.3h0M1329.1 778.6h0M1330.3 780.6h0M1331.6 777.1h0M1332.8 779.5h0M1334.0 777.0h0M1335.2 779.7h0M1336.5 781.8h0M1337.7 777.0h0M1338.9 778.6h0M1340.1 775.3h0M1341.3 779.2h0M1342.5 779.5h0M1343.7 776.6h0M1344.9 773.7h0M1346.1 776.8h0M1347.3 778.2h0M1348.5 777.8h0M1349.7 776.9h0M1350.9 770.8h0M1352.2 773.1h0M1353.4 777.4h0M1354.6 771.3h0M1355.8 776.2h0M1357.0 777.6h0M1358.2 774.8h0M1359.4 775.4h0M1360.6 771.9h0M1361.8 769.6h0M1363.0 771.8h0M1364.2 771.3h0M1365.4 771.4h0M1366.6 773.0h0M1367.8 771.1h0M1369.0 771.9h0M1370.2 772.4h0M1371.4 771.4h0M1372.6 775.4h0M1373.8 772.3h0M1375.1 771.5h0M1376.3 770.9h0M1377.5 769.9h0M1378.7 774.2h0M1379.9 771.6h0M1381.1 768.9h0M1382.3 770.0h0M1383.5 770.9h0M1384.7 770.2h0M1385.9 773.5h0M1387.1 768.6h0M1388.3 772.2h0M1389.5 771.4h0M1390.7 768.5h0M1391.9 771.2h0M1393.2 770.8h0M1394.4 772.1h0M1395.6 770.0h0M1396.8 771.6h0M1398.0 767.3h0M1399.2 768.6h0M1400.4 772.6h0M1401.6 773.2h0M1402.8 770.9h0M1404.1 769.6h0M1405.3 773.4h0M1406.5 766.4h0M1407.7 769.3h0M1409.0 772.5h0M1410.2 772.5h0M1411.4 768.8h0M1412.6 767.0h0M1413.9 774.3h0M1415.1 771.5h0M1416.3 769.2h0M1417.5 771.3h0M1418.8 773.2h0M1420.0 765.5h0M1421.2 773.7h0M1422.5 772.9h0M1423.7 766.7h0M1424.9 773.0h0M1426.1 767.4h0M1427.4 773.9h0M1428.6 772.3h0M1429.8 776.4h0M1431.0 770.1h0M1432.3 771.5h0M1433.5 773.8h0M1434.7 770.1h0M1436.0 770.0h0M1437.2 770.8h0M1438.4 771.5h0M1439.7 769.3h0M1440.9 772.8h0M1442.1 773.0h0M1443.3 772.0h0M1444.6 775.6h0M1445.8 771.2h0M1447.0 774.8h0M1448.3 770.8h0M1449.5 773.7h0M1450.7 767.8h0M1452.0 772.6h0M1453.2 771.8h0M1454.4 771.1h0M1455.7 770.9h0M1456.9 771.5h0M1458.1 770.8h0M1459.3 767.6h0M1460.6 771.1h0M1461.8 771.3h0M1463.0 771.4h0M1464.3 770.2h0M1465.5 772.3h0M1466.7 773.9h0M1467.9 771.3h0M1469.0 770.3h0M1470.2 774.0h0M1471.4 772.8h0M1472.6 772.3h0M1473.8 772.4h0M1475.0 768.8h0M1476.2 768.8h0M1477.3 771.2h0M1478.5 767.1h0M1479.7 767.7h0M1480.9 768.4h0M1482.1 768.0h0M1483.2 766.2h0M1484.4 768.5h0M1485.6 765.6h0M1486.8 767.2h0M1488.0 768.0h0M1489.2 767.1h0M1490.3 767.3h0M1491.5 763.2h0M1492.7 762.9h0M1493.9 764.4h0M1495.1 766.9h0M1496.3 769.2h0M1497.4 763.2h0M1498.6 766.6h0M1499.8 764.1h0M1501.0 764.4h0M1502.2 765.4h0M1503.4 767.6h0M1504.5 766.6h0M1505.7 768.7h0M1506.9 764.0h0M1508.1 768.2h0M1509.3 768.2h0M1510.5 766.2h0M1511.6 767.1h0M1512.8 764.7h0M1514.0 763.5h0M1515.2 764.9h0M1516.4 764.4h0M1517.6 772.1h0M1518.8 764.6h0M1519.9 769.2h0M1521.1 766.0h0M1522.3 766.2h0M1523.5 767.0h0M1524.7 763.6h0M1525.9 767.3h0M1527.0 766.1h0M1528.2 761.8h0M1529.4 766.4h0M1530.6 767.0h0M1531.8 767.4h0M1533.0 770.6h0M1534.2 766.9h0M1535.4 769.6h0M1536.6 770.8h0M1537.8 767.8h0M1539.0 773.1h0M1540.1 767.9h0M1541.3 768.9h0M1542.5 773.6h0M1543.7 770.7h0M1544.9 773.5h0M1546.1 770.8h0M1547.3 775.3h0M1548.5 773.3h0M295.6 862.3h0M344.2 855.5h0M1412.3 754.5h0" stroke="#ff0000" stroke-width="14.70" stroke-linecap="round" fill="none"/>
<path d="M285.0 1381.2h0M286.0 1380.1h0M286.9 1392.8h0M287.9 1395.8h0M288.8 1402.6h0M289.8 1407.8h0M290.8 1414.1h0M291.7 1414.4h0M292.7 1415.6h0M293.6 1430.5h0M294.6 1432.6h0M296.2 1428.6h0M297.8 1426.1h0M299.5 1411.7h0M301.1 1410.4h0M302.7 1405.2h0M304.3 1397.9h0M305.5 1407.7h0M306.7 1410.9h0M308.0 1413.3h0M309.2 1417.6h0M310.4 1428.9h0M311.3 1418.3h0M312.2 1417.5h0M313.1 1411.6h0M314.0 1397.9h0M315.0 1395.5h0M315.9 1394.1h0M316.8 1390.0h0M317.7 1386.2h0M318.5 1391.4h0M319.3 1397.3h0M320.1 1397.3h0M321.0 1402.9h0M321.8 1411.5h0M322.6 1412.3h0M323.1 1412.4h0M323.6 1397.7h0M324.1 1400.5h0M324.7 1392.3h0M325.2 1380.6h0M325.7 1386.0h0M326.2 1378.4h0M327.9 1373.7h0M329.6 1366.1h0M331.3 1364.7h0M333.0 1368.2h0M334.7 1356.1h0M336.2 1345.8h0M337.8 1354.5h0M339.3 1352.5h0M340.8 1355.6h0M342.3 1353.9h0M343.8 1351.2h0M345.4 1350.7h0M346.9 1356.8h0M348.4 1350.2h0M349.9 1364.9h0M351.5 1358.3h0M353.0 1358.8h0M354.0 1371.2h0M355.0 1376.1h0M356.1 1376.0h0M357.1 1388.1h0M358.1 1384.5h0M359.1 1393.5h0M360.6 1403.6h0M362.1 1401.3h0M363.7 1400.3h0M365.2 1409.6h0M365.2 1415.9h0M365.2 1417.4h0M365.2 1415.8h0M365.2 1426.0h0M365.2 1433.6h0M366.1 1429.1h0M367.0 1427.2h0M367.9 1413.8h0M368.9 1407.2h0M369.8 1403.0h0M370.7 1401.7h0M371.6 1388.2h0M372.5 1390.5h0M374.2 1374.2h0M375.9 1385.3h0M377.6 1378.3h0M379.3 1380.7h0M381.0 1379.8h0M382.7 1371.7h0M384.4 1374.3h0M386.0 1374.1h0M387.7 1374.0h0M389.4 1367.1h0M391.0 1365.6h0M392.7 1360.8h0M394.4 1375.5h0M396.0 1366.9h0M397.6 1368.0h0M399.2 1364.6h0M399.4 1378.9h0M399.7 1379.3h0M399.9 1392.0h0M400.2 1395.5h0M400.4 1398.1h0M400.7 1406.2h0M400.9 1405.2h0M401.2 1413.6h0M401.4 1418.3h0M401.7 1421.4h0M403.2 1425.3h0M404.7 1424.0h0M406.2 1428.9h0M407.8 1410.9h0M409.3 1419.8h0M410.8 1418.1h0M412.3 1419.0h0M413.8 1421.4h0M415.3 1425.9h0M416.9 1429.2h0M418.4 1431.9h0M419.9 1440.0h0M421.4 1442.5h0M422.9 1437.6h0M424.5 1446.3h0M426.0 1445.4h0M426.3 1440.8h0M426.7 1440.4h0M427.0 1434.9h0M427.4 1429.9h0M427.7 1421.1h0M428.1 1418.3h0M428.4 1410.5h0M429.9 1412.0h0M431.3 1410.0h0M432.8 1410.6h0M434.2 1405.7h0M435.7 1395.1h0M437.3 1391.9h0M439.0 1385.7h0M440.6 1385.7h0M442.3 1386.9h0M444.0 1377.4h0M445.7 1362.1h0M447.4 1360.6h0M449.1 1355.6h0M450.8 1362.9h0M452.5 1361.8h0M454.2 1363.6h0M455.9 1369.7h0M457.6 1361.0h0M459.3 1358.3h0M461.0 1365.7h0M462.7 1357.2h0M464.4 1350.5h0M466.1 1343.3h0M467.6 1342.7h0M469.0 1336.9h0M470.5 1343.5h0M471.9 1341.0h0M473.4 1342.0h0M474.3 1343.2h0M475.2 1346.6h0M476.1 1351.7h0M477.3 1366.3h0M478.5 1358.2h0M479.8 1370.3h0M481.0 1374.9h0M482.2 1382.1h0M483.4 1383.6h0M484.6 1392.0h0M485.8 1398.4h0M487.0 1400.1h0M488.4 1393.0h0M489.8 1388.1h0M491.2 1379.4h0M492.6 1376.2h0M494.0 1369.9h0M495.4 1365.9h0M496.8 1364.0h0M498.4 1367.6h0M500.0 1364.9h0M501.6 1372.3h0M503.3 1374.9h0M504.9 1380.2h0M506.5 1381.2h0M508.1 1382.1h0M509.7 1379.4h0M511.4 1378.3h0M513.0 1384.2h0M514.6 1385.8h0M516.2 1383.5h0M517.9 1382.7h0M519.5 1382.1h0M521.1 1379.5h0M522.6 1374.7h0M524.1 1383.5h0M525.7 1381.8h0M527.2 1379.1h0M528.7 1377.6h0M530.2 1385.7h0M531.8 1374.6h0M533.3 1387.4h0M534.3 1378.5h0M535.2 1379.9h0M536.2 1363.9h0M537.1 1361.6h0M538.1 1355.0h0M538.1 1362.7h0M538.1 1366.7h0M538.1 1370.1h0M538.1 1382.0h0M538.1 1380.6h0M538.1 1386.9h0M538.1 1396.1h0M538.1 1397.5h0M539.8 1401.2h0M541.5 1407.5h0M543.2 1408.3h0M544.9 1408.5h0M546.6 1416.0h0M547.7 1410.3h0M548.8 1411.9h0M549.8 1396.5h0M550.9 1398.6h0M552.0 1386.9h0M553.1 1383.2h0M554.1 1377.9h0M555.2 1374.8h0M556.8 1378.1h0M558.4 1382.5h0M560.0 1375.2h0M561.7 1383.5h0M563.3 1383.5h0M564.9 1384.0h0M565.0 1372.6h0M565.2 1372.7h0M565.3 1363.3h0M565.4 1359.1h0M565.6 1351.1h0M565.7 1348.6h0M565.8 1344.4h0M566.0 1338.7h0M566.1 1328.1h0M567.6 1331.0h0M569.1 1331.3h0M570.7 1321.3h0M572.2 1328.7h0M573.7 1317.2h0M575.2 1322.6h0M576.8 1321.4h0M578.3 1323.2h0M578.8 1324.4h0M579.4 1327.2h0M579.9 1331.6h0M580.4 1335.5h0M581.0 1348.3h0M581.5 1350.2h0M582.0 1354.0h0M582.6 1364.1h0M583.1 1364.9h0M584.1 1360.3h0M585.1 1354.3h0M586.2 1356.1h0M587.2 1349.5h0M588.2 1337.8h0M589.2 1326.8h0M589.7 1339.3h0M590.1 1344.3h0M590.6 1351.1h0M591.0 1357.6h0M591.5 1360.2h0M592.0 1370.5h0M592.4 1375.9h0M592.9 1379.5h0M594.6 1379.7h0M596.3 1381.8h0M598.0 1388.5h0M599.7 1384.5h0M601.4 1390.3h0M602.2 1382.4h0M603.0 1374.2h0M603.8 1375.6h0M604.6 1367.5h0M605.5 1361.9h0M606.3 1359.1h0M607.1 1344.8h0M607.9 1344.1h0M608.7 1339.5h0M609.6 1347.1h0M610.5 1345.9h0M611.4 1358.0h0M612.4 1361.8h0M613.3 1371.6h0M614.2 1376.4h0M615.1 1379.9h0M616.0 1391.3h0M617.5 1381.8h0M619.0 1378.4h0M620.6 1376.9h0M622.1 1372.9h0M622.6 1370.5h0M623.2 1358.2h0M623.7 1359.0h0M624.2 1355.1h0M624.8 1351.5h0M625.3 1341.0h0M625.8 1341.6h0M626.4 1328.5h0M626.9 1324.7h0M627.1 1324.0h0M627.3 1333.6h0M627.5 1339.0h0M627.6 1352.7h0M627.8 1354.9h0M628.0 1354.7h0M628.2 1366.0h0M629.7 1362.1h0M631.2 1356.0h0M632.7 1353.2h0M634.2 1348.4h0M635.8 1343.9h0M637.3 1336.0h0M638.8 1338.2h0M640.3 1339.4h0M641.8 1342.7h0M643.3 1339.4h0M644.9 1340.4h0M646.4 1345.1h0M647.9 1350.6h0M649.5 1350.4h0M651.0 1348.8h0M652.5 1353.8h0M654.0 1353.5h0M655.5 1357.7h0M657.1 1356.1h0M658.6 1354.0h0M660.2 1355.8h0M661.8 1354.6h0M663.5 1344.4h0M665.1 1344.2h0M666.7 1344.0h0M668.3 1336.0h0M668.5 1340.7h0M668.7 1355.8h0M668.9 1357.3h0M669.1 1363.6h0M669.3 1362.4h0M669.5 1377.1h0M671.2 1366.2h0M672.9 1370.8h0M674.6 1375.9h0M676.2 1374.5h0M677.8 1363.0h0M679.5 1360.4h0M681.1 1359.9h0M682.7 1349.0h0M684.3 1354.5h0M686.0 1350.7h0M687.6 1343.6h0M689.2 1343.6h0M689.5 1339.1h0M689.8 1332.1h0M690.1 1327.6h0M690.4 1325.7h0M690.7 1313.4h0M691.0 1310.3h0M691.3 1302.6h0M691.6 1302.7h0M693.2 1300.5h0M694.7 1306.5h0M696.3 1308.2h0M697.8 1310.8h0M699.4 1319.5h0M700.9 1316.0h0M702.5 1324.2h0M704.0 1325.0h0M705.6 1329.6h0M707.1 1327.3h0M708.7 1333.9h0M710.3 1332.9h0M711.9 1327.8h0M713.5 1330.4h0M715.1 1330.1h0M716.8 1331.4h0M718.4 1337.1h0M720.0 1331.1h0M721.7 1328.7h0M723.3 1329.5h0M724.5 1338.9h0M725.7 1343.1h0M726.9 1350.2h0M728.1 1357.0h0M729.4 1366.1h0M730.6 1365.9h0M732.1 1367.6h0M733.5 1364.7h0M735.0 1370.5h0M736.4 1374.4h0M737.9 1375.6h0M738.4 1358.1h0M739.0 1362.0h0M739.5 1358.5h0M740.1 1349.9h0M740.6 1335.8h0M741.2 1334.0h0M741.7 1331.1h0M742.3 1324.6h0M742.8 1314.3h0M743.4 1308.1h0M743.9 1308.6h0M745.5 1301.3h0M747.0 1311.5h0M748.6 1307.3h0M750.2 1309.0h0M751.8 1304.0h0M753.3 1307.2h0M754.9 1312.4h0M754.9 1299.4h0M754.9 1306.2h0M754.9 1288.7h0M754.9 1283.9h0M754.9 1282.8h0M754.9 1278.9h0M756.6 1282.9h0M758.3 1282.2h0M760.0 1286.0h0M761.7 1289.0h0M763.4 1291.0h0M765.0 1286.5h0M766.6 1301.2h0M768.2 1301.2h0M769.9 1303.3h0M771.5 1303.0h0M773.1 1308.5h0M774.7 1307.6h0M776.4 1307.3h0M778.0 1311.4h0M779.6 1301.6h0M781.3 1308.5h0M782.9 1303.9h0M784.6 1309.7h0M786.3 1319.1h0M788.0 1313.3h0M789.7 1319.9h0M791.4 1321.4h0M793.0 1332.0h0M794.7 1330.5h0M796.3 1333.4h0M797.2 1335.5h0M798.1 1327.0h0M799.0 1321.7h0M799.9 1321.0h0M801.0 1308.9h0M802.0 1305.4h0M803.1 1301.8h0M804.1 1297.4h0M805.2 1288.9h0M806.3 1288.9h0M807.3 1287.8h0M808.4 1273.3h0M810.0 1281.9h0M811.5 1269.0h0M813.1 1281.9h0M814.6 1276.6h0M816.2 1279.1h0M817.7 1278.2h0M819.3 1278.0h0M820.8 1276.5h0M822.4 1280.4h0M823.9 1287.0h0M825.5 1287.2h0M827.2 1283.0h0M828.8 1283.3h0M830.5 1283.6h0M832.1 1282.8h0M833.8 1294.1h0M835.5 1291.1h0M837.1 1290.1h0M838.8 1288.9h0M840.4 1291.8h0M841.9 1304.5h0M843.5 1307.4h0M845.1 1306.0h0M846.7 1317.4h0M848.2 1314.9h0M849.8 1325.6h0M851.3 1322.5h0M852.7 1326.8h0M854.2 1332.4h0M855.6 1334.7h0M857.1 1339.1h0M857.9 1327.0h0M858.8 1329.7h0M859.6 1323.2h0M860.4 1312.9h0M861.3 1308.9h0M862.1 1298.9h0M862.9 1295.4h0M863.8 1285.7h0M864.6 1284.9h0M866.1 1282.3h0M867.6 1283.2h0M869.2 1278.8h0M870.7 1275.3h0M872.2 1268.2h0M873.8 1265.6h0M875.3 1262.2h0M876.8 1261.1h0M878.4 1257.9h0M880.0 1271.5h0M881.6 1267.6h0M883.3 1275.5h0M884.9 1281.6h0M886.5 1284.0h0M888.1 1286.2h0M889.6 1274.7h0M891.2 1275.1h0M892.7 1268.3h0M894.3 1257.2h0M895.8 1254.9h0M897.4 1252.6h0M898.1 1252.6h0M898.8 1259.8h0M899.4 1263.2h0M900.1 1271.0h0M900.8 1275.3h0M901.5 1282.5h0M902.1 1291.3h0M902.8 1298.3h0M903.5 1299.7h0M904.2 1294.1h0M905.0 1290.5h0M905.7 1280.7h0M906.5 1272.2h0M907.2 1273.8h0M915.7 1314.3h0M916.6 1315.2h0M917.4 1303.2h0M918.2 1307.4h0M919.1 1292.0h0M920.0 1293.0h0M920.8 1289.8h0M921.7 1275.8h0M922.5 1278.8h0M923.4 1265.3h0M924.2 1256.6h0M925.8 1263.8h0M927.3 1262.4h0M928.9 1257.8h0M930.5 1248.4h0M932.1 1255.6h0M933.6 1253.3h0M935.2 1251.7h0M936.4 1246.7h0M937.6 1236.3h0M938.8 1235.2h0M940.2 1248.5h0M941.6 1252.7h0M943.0 1251.2h0M944.5 1255.0h0M945.9 1263.9h0M947.3 1271.3h0M948.9 1267.3h0M950.4 1258.0h0M952.0 1259.8h0M953.6 1256.9h0M955.2 1258.6h0M956.7 1255.0h0M958.3 1249.9h0M959.9 1256.0h0M961.5 1254.0h0M963.1 1264.4h0M964.8 1261.2h0M966.4 1267.7h0M968.0 1273.2h0M969.2 1272.3h0M970.4 1278.6h0M972.1 1275.6h0M973.7 1282.9h0M975.4 1282.8h0M977.1 1282.5h0M978.7 1286.0h0M980.4 1277.7h0M982.0 1285.6h0M983.7 1286.6h0M985.4 1286.1h0M987.0 1290.4h0M988.7 1294.4h0M990.2 1281.6h0M991.6 1274.8h0M993.1 1270.9h0M994.5 1268.1h0M996.0 1264.7h0M996.0 1254.5h0M996.0 1255.7h0M996.0 1243.5h0M996.0 1244.7h0M996.0 1238.1h0M996.0 1233.0h0M996.0 1233.7h0M997.6 1227.7h0M999.1 1230.5h0M1000.7 1235.2h0M1002.2 1239.0h0M1003.8 1233.8h0M1005.3 1241.8h0M1006.9 1240.7h0M1008.6 1246.1h0M1010.2 1249.2h0M1011.9 1245.3h0M1013.6 1245.3h0M1015.3 1246.9h0M1016.9 1236.7h0M1018.6 1250.2h0M1020.3 1250.0h0M1021.8 1250.8h0M1023.3 1251.0h0M1024.9 1252.0h0M1026.4 1256.0h0M1027.9 1263.0h0M1029.5 1260.6h0M1031.0 1267.7h0M1032.5 1256.3h0M1034.1 1261.2h0M1035.7 1261.4h0M1037.2 1258.0h0M1038.8 1249.9h0M1040.4 1251.0h0M1042.0 1255.2h0M1043.5 1244.1h0M1045.1 1242.7h0M1046.7 1240.0h0M1048.3 1239.5h0M1049.9 1241.3h0M1051.4 1238.7h0M1053.0 1227.3h0M1054.6 1236.9h0M1056.1 1232.0h0M1057.6 1234.1h0M1059.2 1244.1h0M1060.7 1240.2h0M1062.2 1238.3h0M1063.8 1242.5h0M1065.3 1244.4h0M1066.8 1245.5h0M1067.4 1242.1h0M1068.0 1240.5h0M1068.6 1232.8h0M1069.2 1221.1h0M1069.8 1229.7h0M1070.4 1210.9h0M1071.0 1208.9h0M1071.6 1202.8h0M1073.2 1210.6h0M1074.9 1212.1h0M1076.5 1220.1h0M1078.1 1221.3h0M1079.8 1210.0h0M1081.4 1201.5h0M1083.0 1208.8h0M1084.6 1207.3h0M1086.2 1211.2h0M1087.9 1215.6h0M1089.5 1218.5h0M1091.1 1218.8h0M1091.7 1228.5h0M1092.3 1230.7h0M1092.9 1232.6h0M1093.5 1245.9h0M1095.3 1236.7h0M1097.2 1237.3h0M1098.7 1236.2h0M1100.1 1245.8h0M1101.6 1250.3h0M1103.0 1245.2h0M1104.5 1254.7h0M1106.1 1251.3h0M1107.7 1255.3h0M1109.4 1239.2h0M1111.0 1244.1h0M1112.6 1240.0h0M1114.2 1233.2h0M1115.9 1229.1h0M1117.5 1220.3h0M1119.1 1217.3h0M1120.3 1213.2h0M1121.5 1209.1h0M1122.7 1205.2h0M1123.9 1197.2h0M1125.4 1198.1h0M1127.0 1201.1h0M1128.5 1207.0h0M1130.0 1202.5h0M1131.5 1206.4h0M1133.0 1211.9h0M1134.6 1214.0h0M1136.1 1217.6h0M1137.7 1209.3h0M1139.2 1217.3h0M1140.8 1217.6h0M1142.4 1221.2h0M1144.0 1211.7h0M1145.5 1217.4h0M1147.1 1220.1h0M1148.6 1221.1h0M1150.1 1224.5h0M1151.6 1224.9h0M1153.2 1218.5h0M1154.7 1225.3h0M1156.2 1222.8h0M1157.7 1222.1h0M1159.2 1231.1h0M1160.7 1227.3h0M1162.1 1230.2h0M1163.6 1235.4h0M1165.0 1237.5h0M1166.5 1247.6h0M1168.0 1240.0h0M1169.5 1238.1h0M1171.0 1229.3h0M1172.5 1220.3h0M1173.9 1220.7h0M1175.4 1209.4h0M1176.9 1204.6h0M1178.4 1200.2h0M1179.9 1195.5h0M1180.5 1205.2h0M1181.1 1204.6h0M1181.7 1213.5h0M1182.3 1217.8h0M1183.0 1219.2h0M1183.6 1225.4h0M1184.2 1234.0h0M1184.8 1241.8h0M1186.6 1236.1h0M1188.4 1231.2h0M1190.0 1226.0h0M1191.7 1220.6h0M1193.3 1220.0h0M1194.9 1211.4h0M1196.6 1206.6h0M1198.2 1206.4h0M1199.9 1203.5h0M1201.5 1207.6h0M1203.2 1207.7h0M1204.8 1209.2h0M1206.5 1211.9h0M1208.1 1210.1h0M1209.8 1212.3h0M1211.4 1208.7h0M1213.1 1216.0h0M1214.7 1213.4h0M1216.4 1218.7h0M1217.9 1208.1h0M1219.5 1215.8h0M1221.0 1220.0h0M1222.5 1211.3h0M1224.1 1218.1h0M1225.7 1219.3h0M1227.3 1218.9h0M1229.0 1212.9h0M1230.6 1218.5h0M1232.2 1217.8h0M1232.9 1208.7h0M1233.6 1209.5h0M1234.3 1201.5h0M1235.0 1196.5h0M1235.7 1189.7h0M1236.4 1187.9h0M1237.1 1181.1h0M1238.6 1183.6h0M1240.1 1180.0h0M1241.6 1175.1h0M1243.1 1175.3h0M1244.6 1178.1h0M1244.9 1179.2h0M1245.3 1187.3h0M1245.6 1193.4h0M1246.0 1196.5h0M1246.3 1194.6h0M1246.7 1208.7h0M1247.0 1214.5h0M1247.4 1208.3h0M1247.8 1199.3h0M1248.2 1200.2h0M1248.6 1189.6h0M1249.1 1181.9h0M1249.5 1175.6h0M1249.9 1173.4h0M1250.3 1162.4h0M1250.7 1156.8h0M1252.2 1168.5h0M1253.7 1167.3h0M1255.2 1167.6h0M1256.8 1169.9h0M1258.3 1168.4h0M1259.8 1161.7h0M1261.3 1172.9h0M1262.8 1174.3h0M1264.4 1175.4h0M1266.1 1170.5h0M1267.7 1185.3h0M1269.3 1189.4h0M1271.0 1186.5h0M1272.6 1192.3h0M1274.3 1196.3h0M1276.0 1195.0h0M1277.7 1200.8h0M1279.4 1199.0h0M1281.1 1202.8h0M1282.8 1201.9h0M1284.4 1197.7h0M1286.1 1200.6h0M1287.8 1216.3h0M1289.5 1207.5h0M1291.2 1212.3h0M1292.8 1212.9h0M1294.5 1216.2h0M1296.1 1212.0h0M1297.6 1207.8h0M1299.2 1209.8h0M1300.7 1202.8h0M1302.3 1208.7h0M1303.8 1212.3h0M1305.4 1201.5h0M1306.9 1207.7h0M1308.3 1208.0h0M1309.8 1207.8h0M1311.2 1197.9h0M1312.7 1196.9h0M1314.2 1189.1h0M1315.8 1188.6h0M1317.3 1190.6h0M1318.8 1192.4h0M1320.3 1177.7h0M1321.9 1183.0h0M1323.4 1176.2h0M1324.9 1169.5h0M1326.5 1179.8h0M1328.1 1164.3h0M1329.8 1173.8h0M1331.4 1175.8h0M1333.0 1183.4h0M1334.6 1183.2h0M1336.3 1185.8h0M1337.9 1179.3h0M1339.5 1183.2h0M1341.0 1185.5h0M1342.4 1183.5h0M1343.9 1183.9h0M1345.3 1183.0h0M1346.8 1183.2h0M1348.4 1181.5h0M1350.0 1193.9h0M1351.7 1186.7h0M1353.3 1182.2h0M1354.9 1191.6h0M1356.5 1191.8h0M1358.0 1192.0h0M1359.4 1197.3h0M1360.9 1190.1h0M1362.3 1189.1h0M1363.8 1186.9h0M1365.4 1187.2h0M1367.1 1183.5h0M1368.7 1183.5h0M1370.3 1191.5h0M1372.0 1179.7h0M1373.6 1173.1h0M1375.3 1179.5h0M1377.0 1172.3h0M1378.7 1168.8h0M1380.4 1165.0h0M1382.1 1162.0h0M1383.6 1156.6h0M1385.2 1154.3h0M1386.7 1148.0h0M1388.2 1144.3h0M1389.4 1132.0h0M1390.6 1127.9h0M1391.8 1119.5h0M1393.0 1119.6h0M1394.2 1113.3h0M1395.4 1114.2h0M1396.6 1123.2h0M1397.8 1135.8h0M1399.1 1136.3h0M1400.3 1133.4h0M1401.5 1142.4h0M1402.7 1150.3h0M1403.9 1152.4h0M1405.2 1158.4h0M1406.4 1165.6h0M1407.9 1159.3h0M1409.5 1151.0h0M1411.0 1154.0h0M1412.5 1147.8h0M1414.1 1144.0h0M1415.6 1137.1h0M1417.2 1129.7h0M1418.7 1125.7h0M1420.3 1124.3h0M1421.8 1117.3h0M1423.4 1107.0h0M1423.5 1126.1h0M1423.6 1123.6h0M1423.8 1130.8h0M1423.9 1140.8h0M1424.0 1136.0h0M1424.1 1154.8h0M1424.2 1153.0h0M1424.4 1163.6h0M1424.5 1165.2h0M1424.6 1173.6h0M1426.2 1174.2h0M1427.8 1175.2h0M1429.3 1170.2h0M1430.9 1172.8h0M1432.5 1179.2h0M1434.1 1185.6h0M1435.7 1174.9h0M1437.3 1174.8h0M1439.0 1169.6h0M1440.6 1166.8h0M1442.2 1164.7h0M1443.8 1152.0h0M1445.5 1154.4h0M1447.1 1148.9h0M1448.7 1144.5h0M1450.3 1141.3h0M1451.9 1140.3h0M1453.6 1138.1h0M1455.2 1136.6h0M1456.8 1148.0h0M1458.4 1143.9h0M1460.1 1141.5h0M1461.7 1147.7h0M1463.4 1145.3h0M1465.1 1142.6h0M1466.8 1149.6h0M1468.4 1160.1h0M1470.1 1168.2h0M1470.7 1167.3h0M1471.4 1168.1h0M1472.0 1175.0h0M1473.7 1172.6h0M1475.3 1171.5h0M1477.0 1175.8h0M1478.7 1175.5h0M1480.4 1174.4h0M1482.0 1174.4h0M1483.7 1174.5h0M1485.5 1176.1h0M1487.2 1177.6h0M1489.0 1169.4h0M1490.7 1175.5h0M1492.5 1159.4h0M1492.5 1161.0h0M1492.5 1151.0h0M1492.5 1149.4h0M1492.5 1145.3h0M1492.5 1141.9h0M1492.5 1138.9h0M1494.1 1130.5h0M1495.7 1125.7h0M1497.3 1126.9h0M1499.0 1126.2h0M1500.6 1120.3h0M1502.2 1123.4h0M1502.3 1131.5h0M1502.5 1125.9h0M1502.6 1137.4h0M1502.8 1145.0h0M1502.9 1140.0h0M1503.1 1152.7h0M1503.2 1156.5h0M1504.9 1148.9h0M1506.6 1155.1h0M1508.3 1147.9h0M1510.0 1142.0h0M1511.7 1141.9h0M1513.4 1139.2h0M1515.1 1136.2h0M1516.8 1132.1h0M1518.5 1132.6h0M1520.1 1128.2h0M1521.8 1132.0h0M1523.5 1135.0h0M1525.2 1126.0h0M1526.8 1144.3h0M1528.5 1136.6h0M1530.1 1135.6h0M1531.6 1134.2h0M1533.2 1142.9h0M1534.7 1143.5h0M1536.3 1142.7h0M1536.9 1137.4h0M1537.5 1129.9h0M1538.0 1124.6h0M1538.6 1121.0h0M1539.2 1113.2h0M1539.8 1112.0h0M1540.4 1103.3h0M1540.9 1098.4h0M1541.5 1093.6h0M1542.1 1090.8h0M1543.1 1093.8h0M1544.0 1097.9h0M1545.0 1102.0h0M1546.0 1105.1h0M1547.0 1112.2h0M1547.9 1121.2h0M1548.9 1125.0h0M1033.7 1289.5h0M343.3 1339.6h0M349.3 1337.2h0M410.5 1345.3h0M469.8 1413.8h0M471.2 1415.2h0M521.1 1389.6h0M601.4 1404.2h0M916.9 1341.8h0M972.9 1301.7h0M1042.4 1287.9h0M1108.1 1269.6h0M1156.8 1257.5h0M1161.7 1264.8h0M1173.8 1259.9h0M1290.8 1232.1h0M1406.8 1160.2h0M1423.4 1172.9h0" stroke="#ff0000" stroke-width="14.70" stroke-linecap="round" fill="none"/>
<path d="M285.0 141.0h0M286.2 140.1h0M287.4 140.1h0M288.6 142.4h0M289.9 143.4h0M291.1 142.8h0M292.3 140.9h0M293.5 142.5h0M294.7 143.2h0M295.9 142.0h0M297.1 143.7h0M298.4 143.2h0M299.6 142.6h0M300.8 142.3h0M302.0 144.9h0M303.2 144.5h0M304.4 143.3h0M305.6 143.3h0M306.9 145.7h0M308.1 145.5h0M309.3 144.6h0M310.5 147.0h0M311.7 145.0h0M312.9 144.3h0M314.1 147.0h0M315.4 145.7h0M316.6 146.5h0M317.8 146.3h0M319.0 145.2h0M320.2 145.4h0M321.4 146.9h0M322.7 149.1h0M323.9 146.6h0M325.1 149.7h0M326.3 148.7h0M327.5 147.5h0M328.8 149.5h0M330.0 150.2h0M331.2 148.8h0M332.4 147.7h0M333.6 151.0h0M334.8 149.6h0M336.1 151.8h0M337.3 149.4h0M338.5 151.8h0M339.7 151.4h0M340.9 150.9h0M342.2 152.7h0M343.4 153.5h0M344.6 153.0h0M345.8 152.7h0M347.0 154.6h0M348.2 152.7h0M349.5 155.7h0M350.7 156.0h0M351.9 157.7h0M353.1 157.1h0M354.3 156.9h0M355.6 157.1h0M356.8 157.2h0M358.0 156.0h0M359.2 159.5h0M360.4 158.7h0M361.7 158.0h0M362.9 157.3h0M364.1 160.6h0M365.3 159.8h0M366.5 158.0h0M367.8 160.5h0M369.0 162.2h0M370.2 160.2h0M371.4 161.0h0M372.6 160.3h0M373.8 160.3h0M375.1 162.6h0M376.3 165.2h0M377.5 162.0h0M378.7 162.0h0M379.9 163.4h0M381.2 162.4h0M382.4 163.8h0M383.6 164.2h0M384.8 162.4h0M386.0 162.6h0M387.2 164.0h0M388.5 165.3h0M389.7 165.0h0M390.9 166.4h0M392.1 163.6h0M393.3 166.0h0M394.6 165.0h0M395.8 166.1h0M397.0 166.7h0M398.2 165.5h0M399.4 166.6h0M400.6 165.8h0M401.8 167.8h0M403.0 166.8h0M404.3 167.5h0M405.5 168.6h0M406.7 167.9h0M407.9 170.3h0M409.1 168.5h0M410.3 170.5h0M411.5 170.1h0M412.7 168.9h0M413.9 170.1h0M415.1 169.7h0M416.4 170.5h0M417.6 170.9h0M418.8 173.6h0M420.0 171.3h0M421.2 173.9h0M422.4 172.9h0M423.6 171.2h0M424.8 170.3h0M426.0 174.1h0M427.2 171.3h0M428.4 174.7h0M429.7 175.3h0M430.9 174.9h0M432.1 174.5h0M433.3 174.7h0M434.5 175.6h0M435.7 175.2h0M436.9 175.3h0M438.1 175.9h0M439.3 178.0h0M440.6 176.3h0M441.8 177.8h0M443.0 176.4h0M444.2 177.2h0M445.4 176.8h0M446.6 178.5h0M447.9 179.9h0M449.1 179.8h0M450.3 179.3h0M451.5 180.9h0M452.7 180.1h0M453.9 181.3h0M455.1 181.6h0M456.4 182.2h0M457.6 179.1h0M458.8 180.8h0M460.0 183.6h0M461.2 182.9h0M462.4 186.0h0M463.7 183.4h0M464.9 183.4h0M466.1 186.2h0M467.3 185.4h0M468.5 187.3h0M469.7 186.1h0M471.0 185.6h0M472.2 187.0h0M473.4 185.6h0M474.6 186.4h0M475.8 186.5h0M477.0 187.1h0M478.3 188.5h0M479.5 187.2h0M480.7 188.4h0M481.9 187.7h0M483.1 189.5h0M484.4 185.5h0M485.6 188.7h0M486.8 189.3h0M488.0 188.1h0M489.2 190.7h0M490.4 190.0h0M491.7 191.5h0M492.9 191.3h0M494.1 191.2h0M495.3 190.5h0M496.5 189.6h0M497.8 190.9h0M499.0 190.8h0M500.2 191.8h0M501.4 191.2h0M502.6 195.5h0M503.9 190.4h0M505.1 193.8h0M506.3 192.1h0M507.5 192.6h0M508.7 194.2h0M509.9 193.3h0M511.2 192.2h0M512.4 194.3h0M513.6 193.8h0M514.8 192.0h0M516.0 195.0h0M517.2 193.9h0M518.5 194.6h0M519.7 196.4h0M520.9 196.6h0M522.1 196.2h0M523.3 199.5h0M524.5 197.8h0M525.8 197.0h0M527.0 198.3h0M528.2 198.3h0M529.4 196.2h0M530.6 197.3h0M531.8 197.9h0M533.0 202.3h0M534.3 200.1h0M535.5 200.3h0M536.7 200.4h0M537.9 202.5h0M539.1 201.8h0M540.3 204.1h0M541.6 203.4h0M542.8 204.8h0M544.0 203.1h0M545.2 204.0h0M546.4 203.5h0M547.6 204.1h0M548.9 202.7h0M550.1 204.4h0M551.3 204.3h0M552.5 205.0h0M553.7 207.5h0M554.9 206.7h0M556.1 208.1h0M557.4 208.0h0M558.6 208.4h0M559.8 208.8h0M561.0 207.2h0M562.2 209.2h0M563.4 208.2h0M564.7 208.2h0M565.9 210.5h0M567.1 211.9h0M568.3 208.6h0M569.5 212.1h0M570.7 211.3h0M572.0 209.7h0M573.2 211.3h0M574.4 211.7h0M575.6 212.0h0M576.8 211.5h0M578.0 210.7h0M579.2 212.5h0M580.5 213.8h0M581.7 214.0h0M582.9 214.1h0M584.1 215.0h0M585.3 212.8h0M586.5 214.2h0M587.8 215.0h0M589.0 216.0h0M590.2 215.4h0M591.4 216.1h0M592.6 215.9h0M593.8 218.5h0M595.0 213.8h0M596.2 216.6h0M597.4 219.8h0M598.7 217.5h0M599.9 215.4h0M601.1 218.0h0M602.3 216.5h0M603.5 217.6h0M604.7 219.0h0M605.9 221.0h0M607.1 219.8h0M608.3 220.3h0M609.5 221.0h0M610.8 220.4h0M612.0 219.4h0M613.2 220.6h0M614.4 221.4h0M615.6 221.0h0M616.8 220.8h0M618.0 221.5h0M619.2 220.4h0M620.4 221.3h0M621.6 222.7h0M622.9 222.6h0M624.1 223.4h0M625.3 225.3h0M626.5 224.3h0M627.7 224.2h0M628.9 223.1h0M630.1 223.6h0M631.3 225.7h0M632.6 224.6h0M633.8 226.4h0M635.0 225.1h0M636.2 226.8h0M637.4 227.0h0M638.6 228.6h0M639.9 227.3h0M641.1 227.7h0M642.3 228.8h0M643.5 228.9h0M644.7 231.2h0M646.0 229.3h0M647.2 229.3h0M648.4 229.9h0M649.6 231.2h0M650.8 231.3h0M652.1 232.2h0M653.3 230.2h0M654.5 235.0h0M655.7 234.6h0M656.9 232.8h0M658.1 231.8h0M659.4 233.7h0M660.6 234.4h0M661.8 231.7h0M663.0 234.7h0M664.2 233.3h0M665.5 235.9h0M666.7 237.3h0M667.9 237.3h0M669.1 234.6h0M670.3 238.2h0M671.5 237.9h0M672.8 236.7h0M674.0 238.0h0M675.2 239.4h0M676.4 237.6h0M677.6 238.2h0M678.8 237.8h0M680.1 240.1h0M681.3 236.5h0M682.5 240.9h0M683.7 238.4h0M684.9 240.8h0M686.1 238.2h0M687.3 239.2h0M688.6 239.9h0M689.8 241.8h0M691.0 239.2h0M692.2 242.0h0M693.4 240.9h0M694.6 243.3h0M695.9 241.8h0M697.1 243.0h0M698.3 242.5h0M699.5 245.0h0M700.7 242.8h0M701.9 243.4h0M703.2 246.0h0M704.4 244.1h0M705.6 245.0h0M706.8 243.6h0M708.0 245.0h0M709.2 242.5h0M710.4 245.5h0M711.7 244.9h0M712.9 244.2h0M714.1 244.6h0M715.3 247.8h0M716.5 247.3h0M717.7 245.3h0M719.0 249.5h0M720.2 246.9h0M721.4 247.5h0M722.6 248.5h0M723.8 247.2h0M725.0 246.9h0M726.2 248.2h0M727.5 250.8h0M728.7 250.8h0M729.9 248.1h0M731.1 251.6h0M732.3 250.6h0M733.5 251.4h0M734.8 251.2h0M736.0 251.9h0M737.2 250.5h0M738.4 250.9h0M739.6 251.5h0M740.8 252.1h0M742.1 253.6h0M743.3 251.7h0M744.5 255.3h0M745.7 253.0h0M746.9 253.4h0M748.1 255.2h0M749.3 255.3h0M750.6 254.8h0M751.8 254.3h0M753.0 254.7h0M754.2 254.4h0M755.4 257.9h0M756.6 258.2h0M757.9 259.5h0M759.1 258.3h0M760.3 258.4h0M761.5 259.3h0M762.7 259.9h0M763.9 258.8h0M765.2 259.9h0M766.4 262.4h0M767.6 258.3h0M768.8 259.0h0M770.0 259.8h0M771.2 262.2h0M772.4 263.0h0M773.7 261.6h0M774.9 263.2h0M776.1 262.7h0M777.3 263.5h0M778.5 262.9h0M779.7 263.8h0M781.0 264.2h0M782.2 265.9h0M783.4 267.5h0M784.6 263.2h0M785.8 266.2h0M787.0 265.9h0M788.3 267.4h0M789.5 267.8h0M790.7 267.8h0M791.9 268.2h0M793.1 266.5h0M794.4 265.9h0M795.6 270.1h0M796.8 269.9h0M798.0 267.7h0M799.2 270.7h0M800.4 270.3h0M801.7 267.0h0M802.9 271.2h0M804.1 269.3h0M805.3 272.1h0M806.5 270.3h0M807.8 270.6h0M809.0 270.0h0M810.2 271.8h0M811.4 273.6h0M812.6 271.9h0M813.9 270.9h0M815.1 275.8h0M816.3 275.8h0M817.5 274.8h0M818.7 273.7h0M819.9 273.2h0M821.2 273.1h0M822.4 275.9h0M823.6 277.1h0M824.8 274.7h0M826.0 276.2h0M827.2 276.1h0M828.5 276.5h0M829.7 277.6h0M830.9 279.7h0M832.1 276.9h0M833.3 278.9h0M834.5 279.4h0M835.8 278.1h0M837.0 278.6h0M838.2 277.5h0M839.4 280.6h0M840.6 279.0h0M841.8 279.2h0M843.0 280.3h0M844.3 279.5h0M845.5 279.6h0M846.7 280.7h0M847.9 283.1h0M849.1 281.4h0M850.3 282.5h0M851.6 280.5h0M852.8 280.2h0M854.0 284.9h0M855.2 282.6h0M856.4 281.6h0M857.6 283.5h0M858.9 284.6h0M860.1 282.2h0M861.3 283.5h0M862.5 285.1h0M863.7 284.1h0M864.9 286.4h0M866.1 286.9h0M867.4 286.6h0M868.6 285.9h0M869.8 286.7h0M871.0 286.3h0M872.2 287.2h0M873.4 288.1h0M874.7 287.7h0M875.9 289.5h0M877.1 291.7h0M878.3 288.4h0M879.5 289.7h0M880.7 290.6h0M882.0 290.7h0M883.2 290.0h0M884.4 290.0h0M885.6 292.1h0M886.8 292.0h0M888.0 292.1h0M889.2 291.0h0M890.5 292.9h0M891.7 293.4h0M892.9 292.6h0M894.1 293.9h0M895.3 296.0h0M896.5 291.6h0M897.8 294.8h0M899.0 293.1h0M900.2 293.2h0M901.4 294.8h0M902.6 296.0h0M903.8 295.6h0M905.0 294.5h0M906.2 294.4h0M907.4 295.6h0M908.7 296.5h0M909.9 295.8h0M911.1 295.3h0M912.3 299.3h0M913.5 296.5h0M914.7 297.5h0M915.9 297.3h0M917.1 297.5h0M918.3 298.5h0M919.5 298.3h0M920.8 299.6h0M922.0 297.8h0M923.2 297.7h0M924.4 301.9h0M925.6 299.8h0M926.8 301.0h0M928.0 301.7h0M929.2 301.2h0M930.4 300.9h0M931.6 299.3h0M932.9 299.4h0M934.1 302.7h0M935.3 302.6h0M936.5 302.7h0M937.7 300.3h0M938.9 300.0h0M940.1 301.6h0M941.3 301.8h0M942.6 303.7h0M943.8 302.7h0M945.0 306.1h0M946.2 303.9h0M947.4 304.3h0M948.6 306.3h0M949.9 306.1h0M951.1 305.0h0M952.3 307.3h0M953.5 309.0h0M954.7 305.7h0M956.0 307.2h0M957.2 306.5h0M958.4 305.9h0M959.6 309.2h0M960.8 309.7h0M962.1 310.3h0M963.3 310.1h0M964.5 307.6h0M965.7 310.2h0M966.9 309.8h0M968.1 309.6h0M969.4 310.0h0M970.6 312.6h0M971.8 311.7h0M973.0 314.7h0M974.2 313.3h0M975.5 310.9h0M976.7 314.5h0M977.9 315.3h0M979.1 314.1h0M980.3 313.0h0M981.5 316.8h0M982.8 313.5h0M984.0 315.2h0M985.2 313.4h0M986.4 314.5h0M987.6 314.2h0M988.8 317.8h0M990.1 318.2h0M991.3 316.7h0M992.5 315.9h0M993.7 317.7h0M994.9 318.5h0M996.1 316.6h0M997.3 317.3h0M998.6 318.8h0M999.8 320.1h0M1001.0 319.6h0M1002.2 320.4h0M1003.4 318.7h0M1004.6 317.6h0M1005.9 321.1h0M1007.1 320.0h0M1008.3 321.2h0M1009.5 321.2h0M1010.7 322.5h0M1011.9 321.4h0M1013.2 324.3h0M1014.4 322.9h0M1015.6 323.8h0M1016.8 324.2h0M1018.0 325.1h0M1019.2 324.7h0M1020.4 322.5h0M1021.7 324.2h0M1022.9 327.4h0M1024.1 326.1h0M1025.3 326.6h0M1026.5 326.8h0M1027.7 325.9h0M1029.0 326.2h0M1030.2 326.6h0M1031.4 329.0h0M1032.6 328.4h0M1033.8 330.4h0M1035.0 329.3h0M1036.2 331.3h0M1037.5 329.9h0M1038.7 328.4h0M1039.9 332.1h0M1041.1 330.8h0M1042.3 332.2h0M1043.5 331.4h0M1044.8 331.1h0M1046.0 332.0h0M1047.2 330.9h0M1048.4 331.1h0M1049.6 331.8h0M1050.8 332.6h0M1052.1 332.0h0M1053.3 333.8h0M1054.5 334.6h0M1055.7 337.0h0M1056.9 337.1h0M1058.1 335.2h0M1059.3 336.7h0M1060.6 335.8h0M1061.8 336.8h0M1063.0 336.7h0M1064.2 336.4h0M1065.4 337.5h0M1066.6 336.0h0M1067.9 338.6h0M1069.1 338.1h0M1070.3 337.6h0M1071.5 338.8h0M1072.7 340.2h0M1073.9 339.1h0M1075.2 340.8h0M1076.4 341.3h0M1077.6 342.8h0M1078.8 340.0h0M1080.0 341.5h0M1081.2 342.6h0M1082.4 344.1h0M1083.7 343.0h0M1084.9 344.0h0M1086.1 341.7h0M1087.3 343.1h0M1088.5 346.1h0M1089.7 344.2h0M1091.0 347.4h0M1092.2 344.3h0M1093.4 345.2h0M1094.6 344.0h0M1095.8 347.0h0M1097.0 346.8h0M1098.3 349.2h0M1099.5 347.3h0M1100.7 347.1h0M1101.9 346.1h0M1103.1 347.9h0M1104.3 349.4h0M1105.6 349.5h0M1106.8 350.4h0M1108.0 350.3h0M1109.2 349.5h0M1110.4 350.6h0M1111.7 350.3h0M1112.9 348.9h0M1114.1 352.8h0M1115.3 351.5h0M1116.5 350.1h0M1117.8 352.1h0M1119.0 352.3h0M1120.2 353.4h0M1121.4 354.3h0M1122.6 349.3h0M1123.8 353.8h0M1125.1 355.3h0M1126.3 352.7h0M1127.5 351.9h0M1128.7 354.7h0M1129.9 355.1h0M1131.2 355.4h0M1132.4 354.0h0M1133.6 355.0h0M1134.8 356.2h0M1136.0 357.2h0M1137.2 359.2h0M1138.5 357.3h0M1139.7 356.6h0M1140.9 354.8h0M1142.1 359.2h0M1143.3 358.1h0M1144.5 358.5h0M1145.8 357.8h0M1147.0 360.2h0M1148.2 357.5h0M1149.4 360.1h0M1150.6 360.4h0M1151.8 361.0h0M1153.0 362.5h0M1154.3 361.2h0M1155.5 361.7h0M1156.7 363.0h0M1157.9 360.4h0M1159.1 362.3h0M1160.3 363.0h0M1161.6 364.4h0M1162.8 362.7h0M1164.0 364.9h0M1165.2 364.8h0M1166.4 362.9h0M1167.6 363.2h0M1168.9 363.6h0M1170.1 365.8h0M1171.3 366.2h0M1172.5 367.2h0M1173.7 367.6h0M1174.9 366.2h0M1176.1 368.4h0M1177.4 368.4h0M1178.6 368.3h0M1179.8 368.6h0M1181.0 366.8h0M1182.2 369.1h0M1183.4 367.7h0M1184.7 367.8h0M1185.9 369.1h0M1187.1 370.0h0M1188.3 370.0h0M1189.5 370.0h0M1190.7 369.5h0M1192.0 371.2h0M1193.2 370.4h0M1194.4 369.9h0M1195.6 371.9h0M1196.8 373.8h0M1198.0 371.9h0M1199.2 371.4h0M1200.5 374.6h0M1201.7 375.3h0M1202.9 373.2h0M1204.1 373.6h0M1205.3 374.4h0M1206.5 378.0h0M1207.8 374.9h0M1209.0 376.2h0M1210.2 375.8h0M1211.4 373.4h0M1212.6 374.6h0M1213.8 374.8h0M1215.0 377.1h0M1216.2 377.0h0M1217.5 379.3h0M1218.7 377.1h0M1219.9 378.2h0M1221.1 378.2h0M1222.3 378.6h0M1223.5 381.5h0M1224.7 379.4h0M1225.9 381.1h0M1227.2 381.2h0M1228.4 379.2h0M1229.6 381.1h0M1230.8 380.1h0M1232.0 381.0h0M1233.2 381.4h0M1234.4 381.5h0M1235.6 381.3h0M1236.8 384.0h0M1238.1 382.1h0M1239.3 383.6h0M1240.5 385.1h0M1241.7 384.1h0M1242.9 384.9h0M1244.1 385.7h0M1245.3 385.6h0M1246.5 386.7h0M1247.8 383.2h0M1249.0 387.6h0M1250.2 385.6h0M1251.4 383.8h0M1252.6 385.4h0M1253.8 384.9h0M1255.0 387.0h0M1256.3 385.6h0M1257.5 386.6h0M1258.7 388.6h0M1259.9 388.8h0M1261.1 388.1h0M1262.3 389.2h0M1263.6 389.8h0M1264.8 390.4h0M1266.0 390.7h0M1267.2 390.8h0M1268.4 392.6h0M1269.6 390.0h0M1270.9 391.7h0M1272.1 392.9h0M1273.3 392.7h0M1274.5 392.9h0M1275.7 393.4h0M1276.9 394.6h0M1278.2 396.3h0M1279.4 395.0h0M1280.6 395.3h0M1281.8 396.4h0M1283.0 396.1h0M1284.2 394.5h0M1285.5 397.6h0M1286.7 397.2h0M1287.9 397.4h0M1289.1 399.2h0M1290.3 398.9h0M1291.5 398.6h0M1292.8 397.1h0M1294.0 398.0h0M1295.2 400.5h0M1296.4 400.7h0M1297.6 401.7h0M1298.8 401.8h0M1300.1 401.3h0M1301.3 400.7h0M1302.5 401.3h0M1303.7 402.8h0M1304.9 401.9h0M1306.1 404.6h0M1307.3 402.4h0M1308.6 402.2h0M1309.8 404.5h0M1311.0 402.9h0M1312.2 407.4h0M1313.4 404.6h0M1314.6 406.1h0M1315.8 406.2h0M1317.1 405.8h0M1318.3 405.1h0M1319.5 405.3h0M1320.7 408.9h0M1321.9 409.5h0M1323.1 411.2h0M1324.3 407.2h0M1325.6 410.0h0M1326.8 409.6h0M1328.0 411.0h0M1329.2 409.7h0M1330.4 411.6h0M1331.6 412.1h0M1332.8 412.1h0M1334.1 413.5h0M1335.3 411.9h0M1336.5 414.3h0M1337.7 412.0h0M1338.9 415.1h0M1340.1 410.1h0M1341.4 413.6h0M1342.6 412.9h0M1343.8 414.2h0M1345.0 415.7h0M1346.2 415.6h0M1347.4 415.1h0M1348.7 417.3h0M1349.9 413.8h0M1351.1 414.8h0M1352.3 417.9h0M1353.5 416.8h0M1354.7 414.2h0M1356.0 417.3h0M1357.2 415.8h0M1358.4 419.2h0M1359.6 419.1h0M1360.8 417.4h0M1362.0 419.8h0M1363.3 417.6h0M1364.5 419.9h0M1365.7 419.8h0M1366.9 419.2h0M1368.1 418.0h0M1369.3 419.6h0M1370.6 417.5h0M1371.8 419.8h0M1373.0 418.5h0M1374.2 422.5h0M1375.4 420.1h0M1376.6 418.7h0M1377.9 422.6h0M1379.1 422.6h0M1380.3 421.8h0M1381.5 425.2h0M1382.7 423.8h0M1384.0 423.2h0M1385.2 422.6h0M1386.4 420.1h0M1387.6 424.5h0M1388.8 425.3h0M1390.0 423.7h0M1391.3 423.0h0M1392.5 424.9h0M1393.7 423.2h0M1394.9 425.5h0M1396.1 426.6h0M1397.3 427.8h0M1398.6 426.5h0M1399.8 426.7h0M1401.0 427.6h0M1402.2 428.7h0M1403.4 426.8h0M1404.6 426.0h0M1405.9 426.8h0M1407.1 426.5h0M1408.3 427.2h0M1409.5 428.4h0M1410.7 429.2h0M1411.9 429.2h0M1413.2 429.3h0M1414.4 429.1h0M1415.6 430.3h0M1416.8 431.1h0M1418.0 431.2h0M1419.2 432.3h0M1420.5 430.4h0M1421.7 430.7h0M1422.9 433.3h0M1424.1 431.9h0M1425.3 432.6h0M1426.6 432.0h0M1427.8 434.0h0M1429.0 432.7h0M1430.2 432.4h0M1431.4 433.9h0M1432.6 433.8h0M1433.9 435.7h0M1435.1 434.7h0M1436.3 435.7h0M1437.5 435.6h0M1438.7 436.7h0M1439.9 435.9h0M1441.2 438.4h0M1442.4 435.7h0M1443.6 437.3h0M1444.8 437.3h0M1446.0 439.4h0M1447.2 439.0h0M1448.5 439.9h0M1449.7 439.3h0M1450.9 439.2h0M1452.1 439.1h0M1453.3 440.5h0M1454.5 440.6h0M1455.8 442.0h0M1457.0 442.4h0M1458.2 443.6h0M1459.4 442.7h0M1460.6 442.3h0M1461.8 442.3h0M1463.1 444.0h0M1464.3 444.8h0M1465.5 447.0h0M1466.7 445.1h0M1467.9 447.2h0M1469.2 447.5h0M1470.4 444.2h0M1471.6 447.1h0M1472.8 447.2h0M1474.0 447.7h0M1475.2 446.3h0M1476.5 447.6h0M1477.7 446.1h0M1478.9 446.8h0M1480.1 447.1h0M1481.3 449.4h0M1482.5 447.2h0M1483.8 448.8h0M1485.0 447.9h0M1486.2 447.2h0M1487.4 448.5h0M1488.6 449.2h0M1489.8 447.8h0M1491.1 449.6h0M1492.3 448.2h0M1493.5 448.2h0M1494.7 449.7h0M1495.9 449.3h0M1497.1 448.6h0M1498.4 448.1h0M1499.6 450.2h0M1500.8 450.7h0M1502.0 450.1h0M1503.2 451.0h0M1504.4 449.2h0M1505.7 451.7h0M1506.9 451.9h0M1508.1 451.9h0M1509.3 451.3h0M1510.6 452.6h0M1511.8 453.2h0M1513.0 454.8h0M1514.2 454.3h0M1515.5 454.7h0M1516.7 454.0h0M1517.9 456.4h0M1519.1 457.3h0M1520.4 455.7h0M1521.6 457.6h0M1522.8 457.6h0M1524.0 457.7h0M1525.3 456.7h0M1526.5 460.8h0M1527.7 456.9h0M1529.0 460.0h0M1530.2 459.7h0M1531.4 462.0h0M1532.6 460.6h0M1533.9 461.6h0M1535.1 462.7h0M1536.3 463.0h0M1537.5 462.3h0M1538.8 464.2h0M1540.0 464.4h0M1541.2 466.3h0M1542.4 465.7h0M1543.6 467.5h0M1544.9 468.3h0M1546.1 469.0h0M1547.3 471.5h0M1548.5 472.9h0" stroke="#0000ff" stroke-width="14.70" stroke-linecap="round" fill="none"/>
<path d="M285.0 902.8h0M286.2 899.2h0M287.4 900.1h0M288.6 901.1h0M289.8 898.4h0M291.0 898.3h0M292.2 898.0h0M293.5 896.2h0M294.7 895.2h0M295.9 898.6h0M297.1 896.5h0M298.3 895.7h0M299.5 893.2h0M300.7 895.0h0M301.9 896.3h0M303.1 891.5h0M304.4 891.3h0M305.6 894.3h0M306.8 894.3h0M308.0 893.9h0M309.2 889.5h0M310.4 891.3h0M311.6 888.5h0M312.8 890.5h0M314.0 888.6h0M315.3 889.3h0M316.5 891.0h0M317.7 888.9h0M318.9 887.6h0M320.1 889.0h0M321.3 890.3h0M322.6 889.9h0M323.8 892.1h0M325.0 893.7h0M326.2 896.3h0M327.5 890.8h0M328.7 893.3h0M329.9 893.1h0M331.1 896.8h0M332.3 899.5h0M333.5 895.4h0M334.8 895.2h0M336.0 897.0h0M337.2 890.5h0M338.4 894.5h0M339.6 889.5h0M340.8 895.7h0M342.0 894.8h0M343.2 895.2h0M344.5 897.0h0M345.7 895.6h0M346.9 899.0h0M348.1 897.3h0M349.3 897.8h0M350.5 901.5h0M351.8 896.0h0M353.0 898.2h0M354.2 894.9h0M355.4 898.4h0M356.6 897.8h0M357.9 896.1h0M359.1 897.4h0M360.3 898.4h0M361.5 897.8h0M362.7 895.1h0M363.9 894.8h0M365.2 896.7h0M366.4 892.0h0M367.6 893.3h0M368.8 894.2h0M370.0 893.2h0M371.2 894.4h0M372.5 893.1h0M373.7 889.5h0M374.9 888.6h0M376.1 884.3h0M377.3 885.3h0M378.5 886.7h0M379.7 886.4h0M381.0 887.5h0M382.2 889.1h0M383.4 887.0h0M384.6 888.3h0M385.8 886.7h0M387.1 892.5h0M388.3 889.2h0M389.5 888.7h0M390.7 893.7h0M391.9 892.6h0M393.1 895.3h0M394.4 893.5h0M395.6 898.6h0M396.8 896.7h0M398.0 895.3h0M399.2 894.9h0M400.4 893.9h0M401.6 895.4h0M402.9 897.1h0M404.1 892.5h0M405.3 890.9h0M406.5 893.6h0M407.7 894.3h0M408.9 889.6h0M410.2 890.9h0M411.4 890.2h0M412.6 892.9h0M413.9 892.6h0M415.1 890.3h0M416.3 889.5h0M417.5 891.8h0M418.7 885.9h0M419.9 889.8h0M421.1 887.4h0M422.4 890.2h0M423.6 887.6h0M424.8 883.8h0M426.0 883.4h0M427.2 882.5h0M428.4 880.7h0M429.6 881.2h0M430.9 881.8h0M432.1 876.5h0M433.3 877.8h0M434.5 879.9h0M435.7 877.6h0M436.9 875.1h0M438.1 875.3h0M439.3 875.5h0M440.5 874.4h0M441.8 879.5h0M443.0 877.8h0M444.2 876.7h0M445.4 875.7h0M446.6 878.7h0M447.8 879.6h0M449.1 884.8h0M450.3 882.1h0M451.5 884.3h0M452.8 887.1h0M454.0 887.6h0M455.2 887.3h0M456.4 884.0h0M457.6 890.6h0M458.8 889.4h0M460.0 887.8h0M461.3 888.6h0M462.5 887.3h0M463.7 887.7h0M464.9 886.9h0M466.1 890.3h0M467.3 890.2h0M468.5 889.5h0M469.8 890.4h0M471.0 889.9h0M472.2 889.0h0M473.4 887.1h0M474.6 889.6h0M475.8 889.8h0M477.0 887.9h0M478.3 888.1h0M479.5 884.1h0M480.7 882.3h0M481.9 885.3h0M483.1 881.2h0M484.4 881.7h0M485.6 880.1h0M486.8 879.5h0M488.0 878.1h0M489.2 876.7h0M490.4 873.6h0M491.7 879.2h0M492.9 875.3h0M494.1 870.6h0M495.3 872.0h0M496.5 871.1h0M497.7 871.4h0M499.0 867.7h0M500.2 872.8h0M501.4 874.3h0M502.6 870.5h0M503.8 871.8h0M505.0 872.2h0M506.2 869.7h0M507.5 874.7h0M508.7 870.2h0M509.9 872.9h0M511.2 873.9h0M512.4 877.4h0M513.6 876.1h0M514.8 876.3h0M516.0 875.8h0M517.2 878.0h0M518.5 878.6h0M519.7 880.5h0M520.9 882.3h0M522.1 881.8h0M523.3 881.2h0M524.5 881.4h0M525.7 884.9h0M526.9 882.9h0M528.1 882.9h0M529.4 886.6h0M530.6 886.6h0M531.8 885.3h0M533.0 884.5h0M534.2 882.6h0M535.4 884.6h0M536.7 881.0h0M537.9 882.5h0M539.1 878.4h0M540.3 879.0h0M541.5 878.6h0M542.8 877.2h0M544.0 876.3h0M545.2 875.6h0M546.4 872.0h0M547.6 871.0h0M548.8 871.8h0M550.1 874.2h0M551.3 869.9h0M552.5 867.5h0M553.7 867.5h0M554.9 868.2h0M556.1 869.7h0M557.4 866.2h0M558.6 867.6h0M559.8 866.5h0M561.0 865.1h0M562.2 863.5h0M563.4 864.4h0M564.6 863.0h0M565.8 864.7h0M567.0 860.2h0M568.3 864.7h0M569.5 863.6h0M570.7 862.8h0M571.9 863.9h0M573.1 863.0h0M574.4 859.5h0M575.6 863.2h0M576.8 864.5h0M578.0 863.2h0M579.2 863.0h0M580.5 866.3h0M581.7 867.1h0M582.9 866.1h0M584.1 867.0h0M585.3 867.1h0M586.5 867.6h0M587.8 869.1h0M589.0 871.7h0M590.2 867.6h0M591.4 870.4h0M592.6 873.6h0M593.8 871.1h0M595.0 870.6h0M596.2 871.6h0M597.4 868.1h0M598.6 867.5h0M599.8 866.5h0M601.1 866.6h0M602.3 869.4h0M603.5 870.2h0M604.7 867.8h0M605.9 867.1h0M607.1 868.8h0M608.3 868.9h0M609.5 868.1h0M610.7 863.4h0M611.9 865.0h0M613.1 860.7h0M614.4 864.7h0M615.6 862.0h0M616.8 861.5h0M618.0 864.5h0M619.2 863.3h0M620.4 861.0h0M621.6 859.8h0M622.8 858.8h0M624.0 856.7h0M625.3 856.8h0M626.5 859.4h0M627.7 853.7h0M628.9 853.2h0M630.1 855.5h0M631.3 857.6h0M632.6 858.3h0M633.8 856.0h0M635.0 858.3h0M636.2 858.9h0M637.4 858.0h0M638.6 861.1h0M639.9 861.0h0M641.1 864.3h0M642.3 864.2h0M643.5 862.9h0M644.7 865.3h0M646.0 865.3h0M647.2 865.7h0M648.4 866.7h0M649.6 869.3h0M650.8 866.6h0M652.1 864.2h0M653.3 865.7h0M654.5 868.4h0M655.7 870.6h0M656.9 864.9h0M658.1 866.0h0M659.4 865.9h0M660.6 863.9h0M661.8 866.9h0M663.0 866.0h0M664.2 866.5h0M665.5 869.8h0M666.7 865.3h0M667.9 867.0h0M669.1 865.8h0M670.3 861.9h0M671.5 860.7h0M672.8 863.2h0M674.0 860.5h0M675.2 858.2h0M676.4 854.8h0M677.6 856.9h0M678.8 855.0h0M680.0 856.7h0M681.2 854.2h0M682.4 851.7h0M683.7 849.5h0M684.9 847.9h0M686.1 845.5h0M687.3 845.7h0M688.5 846.2h0M689.7 847.4h0M691.0 848.8h0M692.2 847.9h0M693.4 847.0h0M694.6 849.9h0M695.8 851.8h0M697.0 848.1h0M698.3 850.9h0M699.5 851.7h0M700.7 852.2h0M701.9 852.7h0M703.1 852.2h0M704.4 852.7h0M705.6 856.4h0M706.8 857.0h0M708.0 851.4h0M709.2 849.2h0M710.5 854.2h0M711.7 852.1h0M712.9 852.2h0M714.1 850.1h0M715.3 853.3h0M716.5 852.4h0M717.8 851.4h0M719.0 853.7h0M720.2 856.2h0M721.4 854.3h0M722.6 853.6h0M723.9 850.7h0M725.1 852.3h0M726.3 850.9h0M727.5 852.8h0M728.7 851.5h0M729.9 850.2h0M731.1 851.0h0M732.4 848.6h0M733.6 851.0h0M734.8 852.0h0M736.0 848.5h0M737.2 849.8h0M738.4 845.7h0M739.6 850.0h0M740.9 849.7h0M742.1 846.1h0M743.3 850.7h0M744.5 847.6h0M745.7 844.2h0M746.9 843.8h0M748.1 846.6h0M749.3 843.6h0M750.5 844.9h0M751.8 839.2h0M753.0 840.7h0M754.2 841.6h0M755.4 837.6h0M756.6 840.3h0M757.9 838.8h0M759.1 840.3h0M760.3 840.6h0M761.5 844.3h0M762.8 838.5h0M764.0 842.4h0M765.2 843.6h0M766.4 840.8h0M767.6 844.4h0M768.8 849.7h0M770.0 849.0h0M771.3 843.4h0M772.5 849.7h0M773.7 848.5h0M774.9 853.5h0M776.1 851.6h0M777.3 851.8h0M778.5 851.2h0M779.8 853.0h0M781.0 851.6h0M782.2 850.7h0M783.4 851.7h0M784.6 852.7h0M785.8 850.4h0M787.0 853.7h0M788.3 848.7h0M789.5 852.2h0M790.7 850.7h0M792.0 854.0h0M793.2 850.0h0M794.4 849.8h0M795.6 847.8h0M796.8 852.8h0M798.0 849.5h0M799.2 845.7h0M800.5 846.2h0M801.7 844.2h0M802.9 847.7h0M804.1 844.9h0M805.3 839.4h0M806.5 842.0h0M807.7 841.9h0M809.0 839.1h0M810.2 838.6h0M811.4 836.3h0M812.6 835.6h0M813.8 834.3h0M815.0 832.7h0M816.2 834.7h0M817.5 834.4h0M818.7 834.1h0M819.9 833.1h0M821.1 832.6h0M822.4 834.9h0M823.6 835.9h0M824.8 831.9h0M826.0 836.7h0M827.2 841.6h0M828.5 842.5h0M829.7 841.2h0M830.9 846.4h0M832.1 843.9h0M833.3 845.8h0M834.5 850.3h0M835.7 845.9h0M836.9 846.1h0M838.1 843.3h0M839.4 844.2h0M840.6 843.6h0M841.8 845.2h0M843.0 842.0h0M844.2 846.6h0M845.4 843.7h0M846.7 842.9h0M847.9 842.4h0M849.1 844.4h0M850.3 845.3h0M851.5 841.5h0M852.8 844.6h0M854.0 844.2h0M855.2 843.3h0M856.4 841.0h0M857.6 837.5h0M858.8 840.9h0M860.1 838.5h0M861.3 839.2h0M862.5 835.1h0M863.7 837.1h0M864.9 837.3h0M866.1 834.5h0M867.4 835.8h0M868.6 837.5h0M869.8 834.2h0M871.0 831.8h0M872.2 836.4h0M873.4 827.7h0M874.6 829.1h0M875.8 830.7h0M877.0 828.1h0M878.3 824.4h0M879.5 828.1h0M880.7 828.3h0M881.9 824.7h0M883.1 830.1h0M884.4 829.8h0M885.6 832.4h0M886.8 829.1h0M888.0 833.2h0M889.2 837.4h0M890.5 839.5h0M891.7 839.7h0M892.9 837.8h0M894.1 838.4h0M895.3 837.4h0M896.5 840.8h0M897.8 838.0h0M899.0 839.8h0M900.2 836.3h0M901.4 837.7h0M902.6 843.0h0M903.8 839.6h0M905.0 839.4h0M906.2 834.8h0M907.4 838.1h0M908.6 841.4h0M909.8 834.7h0M911.1 832.8h0M912.3 836.2h0M913.5 835.2h0M914.7 835.3h0M915.9 833.1h0M917.1 832.5h0M918.3 832.3h0M919.5 835.1h0M920.7 833.0h0M921.9 833.6h0M923.1 829.4h0M924.4 831.4h0M925.6 828.7h0M926.8 828.7h0M928.0 829.3h0M929.2 826.8h0M930.4 825.2h0M931.6 821.9h0M932.8 824.1h0M934.0 824.4h0M935.3 821.0h0M936.5 821.1h0M937.7 817.2h0M938.9 817.1h0M940.1 819.9h0M941.4 821.2h0M942.6 818.1h0M943.8 815.5h0M945.0 817.5h0M946.2 815.1h0M947.5 817.2h0M948.7 820.8h0M949.9 819.8h0M951.1 820.8h0M952.3 824.7h0M953.5 824.0h0M954.8 827.1h0M956.0 828.7h0M957.2 831.0h0M958.4 829.4h0M959.6 832.9h0M960.8 832.8h0M962.0 826.9h0M963.2 825.8h0M964.5 828.6h0M965.7 832.5h0M966.9 829.5h0M968.1 830.3h0M969.3 830.1h0M970.5 830.7h0M971.8 828.0h0M973.0 828.1h0M974.2 829.8h0M975.4 830.2h0M976.6 830.1h0M977.9 829.7h0M979.1 828.2h0M980.3 831.1h0M981.5 829.9h0M982.7 831.0h0M983.9 824.6h0M985.2 830.9h0M986.4 824.8h0M987.6 829.5h0M988.8 826.5h0M990.0 826.4h0M991.2 823.9h0M992.5 822.7h0M993.7 822.1h0M994.9 820.9h0M996.1 817.4h0M997.3 812.9h0M998.5 815.0h0M999.8 816.3h0M1001.0 812.8h0M1002.2 814.0h0M1003.4 811.6h0M1004.6 809.5h0M1005.9 812.2h0M1007.1 812.0h0M1008.3 810.6h0M1009.5 812.3h0M1010.7 815.8h0M1012.0 813.3h0M1013.2 815.8h0M1014.4 821.0h0M1015.6 822.2h0M1016.8 821.4h0M1018.0 821.6h0M1019.2 824.4h0M1020.4 822.0h0M1021.6 824.3h0M1022.9 825.5h0M1024.1 822.3h0M1025.3 828.4h0M1026.5 829.5h0M1027.7 829.8h0M1029.0 825.1h0M1030.2 825.1h0M1031.4 825.7h0M1032.6 824.6h0M1033.8 830.3h0M1035.1 824.7h0M1036.3 825.6h0M1037.5 826.1h0M1038.7 826.0h0M1039.9 827.3h0M1041.2 822.3h0M1042.4 825.3h0M1043.6 823.5h0M1044.8 820.7h0M1046.0 822.6h0M1047.2 819.3h0M1048.4 824.2h0M1049.6 819.5h0M1050.8 822.1h0M1052.1 822.2h0M1053.3 818.3h0M1054.5 817.3h0M1055.7 818.6h0M1056.9 815.3h0M1058.2 817.5h0M1059.4 815.0h0M1060.6 812.1h0M1061.9 811.0h0M1063.1 812.3h0M1064.4 807.2h0M1065.6 811.5h0M1066.8 805.9h0M1068.1 805.7h0M1069.3 803.1h0M1070.5 808.9h0M1071.7 808.7h0M1072.9 810.7h0M1074.1 810.7h0M1075.3 810.9h0M1076.5 815.0h0M1077.7 814.3h0M1078.9 815.1h0M1080.1 816.6h0M1081.3 818.0h0M1082.5 818.4h0M1083.7 818.8h0M1084.9 817.4h0M1086.1 823.8h0M1087.3 817.6h0M1088.6 815.9h0M1089.8 818.3h0M1091.0 822.9h0M1092.2 821.4h0M1093.4 818.0h0M1094.7 819.3h0M1095.9 818.6h0M1097.1 814.9h0M1098.3 817.7h0M1099.5 818.6h0M1100.7 820.0h0M1102.0 815.6h0M1103.2 813.5h0M1104.4 814.6h0M1105.6 818.2h0M1106.8 818.0h0M1108.0 818.4h0M1109.2 818.7h0M1110.5 818.0h0M1111.7 816.4h0M1112.9 820.0h0M1114.1 820.1h0M1115.3 819.3h0M1116.5 819.4h0M1117.8 813.8h0M1119.0 810.7h0M1120.2 810.5h0M1121.4 816.5h0M1122.6 809.8h0M1123.8 811.1h0M1125.1 809.2h0M1126.3 809.4h0M1127.5 812.7h0M1128.7 804.9h0M1129.9 804.4h0M1131.2 802.5h0M1132.4 802.9h0M1133.6 802.2h0M1134.8 800.4h0M1136.0 805.4h0M1137.2 806.0h0M1138.4 805.7h0M1139.7 805.5h0M1140.9 806.2h0M1142.1 804.6h0M1143.3 809.6h0M1144.5 807.5h0M1145.7 809.3h0M1146.9 812.9h0M1148.2 810.3h0M1149.4 811.9h0M1150.6 815.3h0M1151.8 818.0h0M1153.0 814.3h0M1154.2 817.4h0M1155.4 814.1h0M1156.7 815.8h0M1157.9 815.9h0M1159.1 812.8h0M1160.3 816.6h0M1161.5 817.9h0M1162.8 814.6h0M1164.0 814.9h0M1165.2 812.1h0M1166.4 817.3h0M1167.6 814.1h0M1168.8 811.6h0M1170.1 815.1h0M1171.3 811.0h0M1172.5 812.3h0M1173.7 808.7h0M1174.9 814.0h0M1176.2 814.6h0M1177.4 808.5h0M1178.6 807.5h0M1179.8 806.6h0M1181.0 805.7h0M1182.2 806.7h0M1183.5 807.4h0M1184.7 802.0h0M1185.9 803.6h0M1187.1 798.6h0M1188.3 803.6h0M1189.6 799.8h0M1190.8 797.7h0M1192.0 800.8h0M1193.2 798.2h0M1194.4 801.2h0M1195.6 801.0h0M1196.8 802.4h0M1198.1 798.4h0M1199.3 800.3h0M1200.5 801.2h0M1201.7 800.6h0M1203.0 804.7h0M1204.3 801.8h0M1205.6 805.9h0M1206.8 807.7h0M1208.1 802.8h0M1209.4 805.6h0M1210.7 806.8h0M1212.0 808.5h0M1213.2 810.1h0M1214.4 809.0h0M1215.6 809.3h0M1216.8 808.2h0M1218.0 808.8h0M1219.2 809.7h0M1220.4 810.1h0M1221.7 807.2h0M1222.9 808.3h0M1224.1 807.0h0M1225.3 807.9h0M1226.5 805.6h0M1227.7 809.8h0M1228.9 809.1h0M1230.1 807.6h0M1231.3 806.5h0M1232.5 806.0h0M1233.7 804.8h0M1234.8 802.3h0M1236.0 807.2h0M1237.2 809.3h0M1238.4 800.3h0M1239.6 799.6h0M1240.8 801.9h0M1241.9 801.0h0M1243.1 796.3h0M1244.3 794.8h0M1245.5 798.3h0M1246.7 792.9h0M1247.9 798.2h0M1249.0 793.9h0M1250.2 794.1h0M1251.4 793.1h0M1252.6 791.2h0M1253.8 792.4h0M1255.0 792.7h0M1256.1 796.0h0M1257.3 794.1h0M1258.5 794.7h0M1259.7 794.3h0M1260.9 794.6h0M1262.1 794.9h0M1263.2 796.8h0M1264.4 800.6h0M1265.6 799.8h0M1266.8 798.7h0M1268.0 801.8h0M1269.2 801.1h0M1270.4 800.2h0M1271.5 800.0h0M1272.7 798.8h0M1273.9 801.7h0M1275.1 801.0h0M1276.3 798.9h0M1277.5 799.7h0M1278.6 805.7h0M1279.8 802.9h0M1281.0 803.6h0M1282.2 803.3h0M1283.4 802.4h0M1284.6 804.3h0M1285.7 805.6h0M1286.9 803.4h0M1288.1 805.1h0M1289.3 806.3h0M1290.5 803.8h0M1291.7 805.2h0M1292.8 803.8h0M1294.0 806.4h0M1295.2 804.9h0M1296.4 806.6h0M1297.6 802.1h0M1298.8 805.4h0M1299.9 800.8h0M1301.1 798.8h0M1302.3 797.6h0M1303.5 799.3h0M1304.7 795.5h0M1305.8 799.2h0M1307.0 797.2h0M1308.2 794.8h0M1309.4 790.2h0M1310.6 791.7h0M1311.8 789.4h0M1313.0 786.3h0M1314.1 789.3h0M1315.3 791.4h0M1316.5 785.4h0M1317.7 788.5h0M1319.0 790.0h0M1320.2 786.6h0M1321.5 788.3h0M1322.7 790.0h0M1324.0 791.0h0M1325.2 788.7h0M1326.5 791.8h0M1327.7 791.9h0M1329.0 794.4h0M1330.2 790.4h0M1331.5 792.9h0M1332.7 793.7h0M1334.0 794.6h0M1335.2 797.1h0M1336.5 795.3h0M1337.7 802.0h0M1338.9 796.0h0M1340.1 798.9h0M1341.3 799.3h0M1342.5 799.4h0M1343.7 797.4h0M1344.9 796.4h0M1346.1 797.6h0M1347.3 799.3h0M1348.5 798.5h0M1349.7 799.5h0M1350.9 799.6h0M1352.1 797.1h0M1353.3 797.1h0M1354.5 801.5h0M1355.7 798.2h0M1356.9 796.3h0M1358.1 801.5h0M1359.4 795.7h0M1360.6 794.5h0M1361.8 796.9h0M1363.1 792.1h0M1364.3 791.6h0M1365.5 794.0h0M1366.8 789.6h0M1368.0 794.6h0M1369.2 789.3h0M1370.4 792.9h0M1371.7 787.3h0M1372.9 786.2h0M1374.1 783.9h0M1375.4 783.6h0M1376.6 782.1h0M1377.8 782.0h0M1379.1 782.4h0M1380.3 777.7h0M1381.6 777.5h0M1382.9 774.6h0M1384.1 780.2h0M1385.4 776.5h0M1386.7 775.8h0M1387.9 776.4h0M1389.1 778.9h0M1390.4 778.3h0M1391.6 780.0h0M1392.8 778.8h0M1394.0 779.5h0M1395.2 780.3h0M1396.5 777.7h0M1397.7 783.7h0M1398.9 779.5h0M1400.1 781.2h0M1401.3 784.9h0M1402.5 784.4h0M1403.8 786.5h0M1405.0 788.7h0M1406.2 789.7h0M1407.4 789.5h0M1408.6 787.2h0M1409.9 792.0h0M1411.1 787.4h0M1412.3 789.4h0M1413.5 791.0h0M1414.8 788.4h0M1416.0 788.2h0M1417.2 787.4h0M1418.4 790.1h0M1419.7 782.8h0M1420.9 789.1h0M1422.1 788.4h0M1423.3 785.9h0M1424.6 786.7h0M1425.8 783.5h0M1427.0 786.9h0M1428.2 790.0h0M1429.5 782.5h0M1430.7 786.2h0M1431.9 783.2h0M1433.2 782.3h0M1434.4 781.7h0M1435.6 781.8h0M1436.8 779.5h0M1438.1 778.9h0M1439.3 784.0h0M1440.5 780.5h0M1441.7 781.2h0M1443.0 780.4h0M1444.2 780.3h0M1445.4 777.3h0M1446.6 779.1h0M1447.8 782.6h0M1448.9 783.9h0M1450.1 780.8h0M1451.3 782.5h0M1452.5 782.3h0M1453.7 786.0h0M1454.8 786.2h0M1456.0 786.3h0M1457.2 785.7h0M1458.4 788.2h0M1459.6 788.3h0M1460.8 787.6h0M1462.0 790.2h0M1463.1 789.1h0M1464.3 792.7h0M1465.5 792.8h0M1466.7 790.3h0M1467.9 792.4h0M1469.0 791.3h0M1470.2 789.7h0M1471.4 789.2h0M1472.6 787.6h0M1473.8 788.4h0M1475.0 790.9h0M1476.2 792.3h0M1477.3 788.8h0M1478.5 790.0h0M1479.7 790.2h0M1480.9 790.8h0M1482.1 790.0h0M1483.2 791.2h0M1484.4 790.2h0M1485.6 787.3h0M1486.8 789.2h0M1488.0 783.5h0M1489.2 786.6h0M1490.3 786.1h0M1491.5 786.3h0M1492.7 784.0h0M1493.9 785.2h0M1495.1 785.3h0M1496.3 780.6h0M1497.4 780.3h0M1498.6 781.0h0M1499.8 780.6h0M1501.0 779.2h0M1502.2 779.6h0M1503.4 775.2h0M1504.5 777.9h0M1505.7 777.8h0M1506.9 776.9h0M1508.1 774.9h0M1509.3 774.7h0M1510.5 776.9h0M1511.7 777.1h0M1513.0 775.4h0M1514.2 778.2h0M1515.4 780.2h0M1516.6 780.4h0M1517.8 780.6h0M1519.0 782.9h0M1520.2 783.7h0M1521.5 785.5h0M1522.7 786.4h0M1523.9 787.8h0M1525.1 790.3h0M1526.3 788.7h0M1527.6 789.2h0M1528.8 786.3h0M1530.1 783.2h0M1531.3 787.8h0M1532.5 789.7h0M1533.8 787.9h0M1535.0 787.4h0M1536.3 786.3h0M1537.5 790.1h0M1538.8 787.6h0M1540.0 788.9h0M1541.2 791.6h0M1542.4 791.6h0M1543.6 795.8h0M1544.9 792.5h0M1546.1 795.6h0M1547.3 796.2h0M1548.5 794.8h0M355.9 911.9h0M667.9 872.4h0M975.9 841.8h0M1158.9 830.0h0M1418.6 802.4h0" stroke="#0000ff" stroke-width="14.70" stroke-linecap="round" fill="none"/>
<path d="M285.5 1377.1h0M286.6 1377.9h0M287.7 1379.1h0M288.8 1385.3h0M289.9 1384.8h0M291.0 1394.2h0M291.3 1392.0h0M291.6 1397.1h0M291.9 1403.4h0M292.2 1406.2h0M293.1 1412.4h0M294.0 1415.1h0M294.9 1417.4h0M295.8 1419.2h0M297.0 1423.9h0M298.2 1433.3h0M299.4 1431.8h0M300.6 1432.5h0M301.9 1432.3h0M303.1 1434.7h0M304.3 1437.5h0M305.5 1434.3h0M306.7 1432.9h0M307.9 1429.6h0M309.2 1432.6h0M310.4 1423.0h0M310.8 1424.4h0M311.2 1415.0h0M311.6 1419.0h0M312.8 1406.3h0M314.1 1401.7h0M315.3 1400.6h0M316.5 1394.3h0M317.7 1396.0h0M318.9 1391.8h0M320.2 1399.5h0M321.4 1402.4h0M322.6 1398.9h0M323.8 1396.5h0M325.0 1393.4h0M326.2 1397.9h0M327.5 1394.5h0M328.7 1392.3h0M329.9 1387.4h0M331.1 1394.0h0M332.3 1389.1h0M333.5 1383.8h0M334.7 1385.1h0M335.9 1383.0h0M337.1 1392.7h0M338.4 1392.1h0M339.6 1403.4h0M340.8 1403.3h0M341.5 1403.0h0M342.2 1393.9h0M342.9 1391.7h0M343.6 1389.2h0M344.3 1379.0h0M345.0 1377.3h0M345.7 1370.2h0M346.9 1370.0h0M348.1 1361.0h0M348.8 1366.5h0M349.6 1371.9h0M350.3 1380.5h0M351.1 1379.2h0M351.8 1386.9h0M351.8 1390.5h0M351.8 1394.4h0M351.8 1398.2h0M351.8 1404.4h0M351.8 1409.9h0M351.8 1409.5h0M353.0 1418.5h0M354.2 1418.6h0M355.4 1426.0h0M356.2 1436.4h0M357.1 1431.4h0M357.9 1438.0h0M358.7 1441.5h0M359.5 1449.0h0M360.3 1449.0h0M361.1 1449.0h0M361.9 1453.1h0M362.7 1461.8h0M363.9 1458.7h0M365.1 1457.6h0M366.4 1449.7h0M367.6 1449.8h0M368.8 1441.0h0M370.1 1443.6h0M371.3 1435.9h0M372.5 1430.2h0M373.1 1428.0h0M373.7 1427.8h0M374.3 1416.0h0M374.9 1410.3h0M376.1 1407.9h0M377.4 1404.5h0M378.6 1404.6h0M379.8 1402.7h0M381.0 1403.7h0M382.2 1407.1h0M383.4 1412.3h0M384.6 1410.6h0M385.6 1403.5h0M386.6 1396.2h0M387.5 1398.9h0M388.5 1392.0h0M389.5 1388.8h0M390.7 1389.7h0M391.9 1388.8h0M393.2 1382.2h0M394.4 1382.9h0M395.6 1384.8h0M396.5 1388.7h0M397.3 1396.9h0M398.2 1396.8h0M399.1 1396.9h0M400.0 1410.5h0M400.8 1407.2h0M401.7 1413.6h0M402.9 1415.6h0M404.1 1409.7h0M405.4 1417.8h0M406.6 1409.6h0M407.8 1408.6h0M409.0 1404.1h0M409.6 1407.6h0M410.2 1398.9h0M410.8 1391.4h0M411.4 1393.0h0M411.7 1389.4h0M411.9 1397.1h0M412.2 1404.1h0M412.5 1408.3h0M412.7 1409.8h0M413.0 1421.5h0M413.3 1425.8h0M413.5 1423.7h0M413.8 1431.9h0M413.8 1433.1h0M413.8 1437.6h0M413.8 1445.5h0M413.8 1447.1h0M414.2 1450.0h0M414.6 1454.3h0M415.0 1454.3h0M416.2 1463.9h0M417.4 1461.2h0M418.6 1469.8h0M419.9 1467.7h0M421.1 1470.5h0M422.3 1478.8h0M423.5 1473.6h0M424.8 1469.8h0M426.0 1468.6h0M427.2 1470.2h0M428.4 1472.3h0M429.7 1467.2h0M430.9 1462.9h0M432.1 1459.4h0M433.3 1457.6h0M434.5 1456.1h0M435.7 1454.0h0M436.9 1448.5h0M437.2 1449.0h0M437.4 1437.9h0M437.7 1433.7h0M437.9 1432.3h0M438.2 1427.3h0M439.2 1420.0h0M440.1 1419.0h0M441.1 1407.5h0M442.0 1411.1h0M443.0 1407.8h0M443.7 1402.8h0M444.5 1393.3h0M445.2 1394.1h0M446.0 1384.3h0M446.7 1383.5h0M447.9 1378.9h0M449.1 1379.7h0M450.3 1380.3h0M451.5 1373.7h0M452.8 1377.7h0M454.0 1382.7h0M455.2 1369.4h0M456.4 1378.4h0M457.6 1384.7h0M458.8 1388.0h0M460.0 1392.4h0M461.2 1397.5h0M462.5 1396.3h0M463.7 1391.8h0M464.9 1396.2h0M466.1 1399.8h0M467.4 1402.8h0M468.6 1402.8h0M469.5 1398.9h0M470.3 1399.0h0M471.2 1381.3h0M472.0 1387.8h0M472.9 1382.4h0M473.7 1376.6h0M474.6 1370.0h0M475.6 1374.4h0M476.6 1379.4h0M477.7 1383.2h0M478.7 1384.7h0M479.7 1393.1h0M480.6 1393.4h0M481.4 1400.5h0M482.3 1404.5h0M483.2 1407.1h0M484.1 1416.9h0M484.9 1419.8h0M485.8 1421.6h0M487.0 1424.0h0M488.2 1419.6h0M489.4 1426.8h0M490.7 1423.5h0M491.9 1427.0h0M493.1 1419.1h0M494.3 1422.0h0M494.8 1412.4h0M495.3 1407.9h0M495.8 1405.2h0M496.3 1401.7h0M496.8 1398.3h0M497.3 1390.6h0M497.8 1390.0h0M498.2 1385.3h0M498.7 1375.7h0M499.2 1373.3h0M500.4 1367.6h0M501.6 1371.3h0M502.9 1361.3h0M504.1 1361.7h0M505.3 1358.2h0M506.5 1351.2h0M507.7 1346.9h0M508.9 1345.6h0M510.1 1341.6h0M511.3 1339.5h0M512.5 1339.5h0M513.8 1342.3h0M515.0 1341.1h0M516.2 1344.7h0M517.4 1338.1h0M518.6 1348.0h0M519.9 1346.8h0M521.1 1356.6h0M522.3 1358.7h0M523.5 1353.1h0M524.7 1352.8h0M526.0 1343.6h0M527.2 1339.1h0M528.4 1333.6h0M529.6 1330.7h0M530.8 1335.5h0M532.0 1339.8h0M533.3 1344.2h0M534.5 1342.7h0M535.4 1345.6h0M536.3 1351.0h0M537.2 1355.0h0M538.1 1359.1h0M538.9 1364.1h0M539.8 1367.7h0M540.6 1374.9h0M541.4 1377.2h0M542.2 1381.9h0M543.0 1382.1h0M543.9 1390.4h0M544.8 1395.5h0M545.7 1399.7h0M546.6 1400.3h0M547.8 1397.2h0M549.1 1395.4h0M550.3 1394.4h0M551.5 1394.5h0M552.7 1394.0h0M554.0 1388.6h0M555.2 1394.0h0M556.4 1384.8h0M557.6 1384.1h0M558.9 1380.9h0M560.1 1382.2h0M561.3 1382.0h0M562.5 1372.8h0M563.7 1368.5h0M564.9 1363.6h0M566.1 1359.6h0M567.3 1355.1h0M567.3 1358.5h0M567.3 1344.7h0M567.3 1343.4h0M567.3 1337.6h0M568.5 1337.7h0M569.7 1332.3h0M571.0 1332.2h0M572.2 1324.6h0M573.4 1330.4h0M574.6 1322.1h0M575.8 1317.5h0M577.0 1325.3h0M578.3 1323.0h0M579.5 1322.0h0M580.0 1330.8h0M580.5 1332.5h0M581.0 1340.3h0M581.6 1341.1h0M582.1 1349.4h0M582.6 1351.7h0M583.1 1356.6h0M584.3 1353.1h0M585.5 1348.7h0M586.8 1345.8h0M588.0 1345.2h0M589.2 1343.0h0M590.4 1339.7h0M591.7 1346.9h0M592.9 1345.2h0M594.1 1337.2h0M595.3 1343.3h0M596.5 1339.9h0M597.8 1340.6h0M599.0 1337.6h0M599.5 1349.1h0M599.9 1346.9h0M600.4 1353.7h0M600.8 1356.7h0M601.2 1368.7h0M601.7 1371.5h0M602.1 1369.1h0M602.6 1376.3h0M603.8 1374.4h0M605.0 1368.2h0M606.2 1364.3h0M607.5 1358.3h0M608.7 1357.9h0M609.9 1350.1h0M611.1 1359.8h0M612.3 1368.5h0M613.6 1365.3h0M614.8 1375.2h0M616.0 1376.0h0M617.2 1370.9h0M618.4 1369.5h0M619.6 1365.5h0M620.9 1366.2h0M622.1 1365.6h0M623.3 1363.9h0M624.5 1358.3h0M625.7 1353.5h0M626.0 1351.7h0M626.3 1351.7h0M626.5 1343.0h0M626.8 1337.2h0M627.1 1326.7h0M627.4 1326.4h0M627.6 1324.2h0M627.9 1315.3h0M628.2 1316.7h0M629.4 1310.5h0M630.6 1308.6h0M631.8 1308.5h0M633.0 1308.8h0M634.2 1310.9h0M635.4 1306.0h0M636.6 1302.2h0M637.8 1306.3h0M639.1 1307.5h0M640.3 1309.8h0M641.5 1301.9h0M642.7 1308.6h0M643.7 1310.8h0M644.7 1314.7h0M645.8 1315.7h0M646.8 1319.9h0M647.8 1324.1h0M648.8 1333.8h0M650.0 1329.4h0M651.2 1329.3h0M652.5 1329.0h0M653.7 1321.6h0M654.9 1319.0h0M655.9 1328.6h0M656.9 1323.9h0M657.8 1330.4h0M658.8 1334.8h0M659.8 1339.0h0M661.0 1342.4h0M662.2 1341.7h0M663.4 1349.2h0M664.6 1344.3h0M665.8 1347.8h0M667.0 1347.4h0M668.3 1349.8h0M669.5 1356.9h0M670.8 1358.7h0M672.0 1358.1h0M673.3 1362.6h0M674.5 1363.6h0M675.8 1362.0h0M677.0 1362.1h0M678.2 1361.8h0M679.4 1364.9h0M680.7 1356.8h0M681.9 1357.6h0M683.1 1356.7h0M684.3 1357.2h0M685.2 1350.4h0M686.1 1347.7h0M687.1 1337.2h0M688.0 1334.9h0M688.8 1325.8h0M689.6 1326.5h0M690.4 1328.6h0M691.2 1318.4h0M692.0 1313.5h0M692.8 1309.5h0M692.8 1305.3h0M692.8 1297.3h0M692.8 1295.0h0M692.8 1292.5h0M693.7 1288.9h0M694.6 1281.5h0M695.6 1279.0h0M696.5 1272.7h0M697.7 1268.1h0M698.9 1266.9h0M700.1 1268.5h0M701.3 1275.0h0M702.5 1278.4h0M703.8 1278.4h0M705.0 1278.2h0M706.2 1279.3h0M707.4 1281.1h0M708.7 1288.5h0M709.9 1298.8h0M711.1 1302.3h0M712.3 1298.5h0M713.5 1296.0h0M714.8 1295.5h0M716.0 1295.4h0M717.2 1293.0h0M718.4 1294.7h0M719.6 1291.9h0M720.8 1294.7h0M722.1 1294.1h0M723.3 1298.5h0M724.5 1292.7h0M725.7 1300.2h0M726.0 1300.3h0M726.3 1303.2h0M726.6 1308.6h0M726.9 1312.9h0M727.5 1316.1h0M728.1 1322.2h0M728.7 1323.7h0M729.3 1324.9h0M730.5 1327.4h0M731.8 1321.3h0M733.0 1321.9h0M733.5 1323.3h0M734.0 1321.6h0M734.4 1335.3h0M734.9 1334.9h0M735.4 1343.2h0M736.2 1351.8h0M737.1 1352.8h0M737.9 1350.8h0M739.1 1351.6h0M740.3 1345.3h0M741.5 1349.6h0M742.8 1347.3h0M744.0 1340.9h0M745.2 1342.9h0M746.4 1340.2h0M747.6 1335.8h0M748.8 1327.7h0M750.0 1322.7h0M751.2 1316.7h0M752.5 1311.4h0M753.7 1310.9h0M754.9 1305.3h0M754.9 1304.3h0M754.9 1297.0h0M754.9 1290.9h0M755.3 1283.0h0M755.7 1286.3h0M756.1 1277.7h0M756.9 1272.3h0M757.7 1264.7h0M758.5 1259.8h0M759.7 1261.9h0M761.0 1255.1h0M762.2 1256.9h0M763.4 1254.5h0M764.6 1252.8h0M765.8 1250.4h0M767.0 1257.0h0M768.3 1260.7h0M769.5 1255.6h0M770.7 1255.5h0M770.9 1266.3h0M771.2 1268.1h0M771.4 1270.3h0M771.7 1279.8h0M771.9 1280.0h0M773.1 1285.7h0M774.4 1287.0h0M775.6 1283.7h0M776.8 1283.9h0M778.0 1278.5h0M779.2 1273.5h0M780.5 1274.5h0M781.7 1276.9h0M782.9 1274.1h0M784.1 1274.7h0M785.3 1272.0h0M786.5 1274.3h0M787.8 1271.2h0M789.0 1269.9h0M789.2 1276.8h0M789.5 1277.3h0M789.7 1286.3h0M790.0 1287.4h0M790.2 1293.7h0M791.4 1294.7h0M792.6 1300.8h0M793.8 1307.9h0M794.6 1308.7h0M795.5 1311.4h0M796.3 1318.1h0M797.5 1318.5h0M798.7 1314.4h0M799.9 1310.5h0M801.1 1308.2h0M802.4 1307.6h0M803.6 1312.9h0M804.8 1308.6h0M806.0 1308.9h0M807.2 1309.1h0M808.4 1305.6h0M809.6 1304.7h0M810.9 1300.6h0M812.1 1296.1h0M813.3 1300.8h0M813.9 1294.3h0M814.5 1291.5h0M815.1 1282.4h0M815.7 1280.4h0M816.1 1282.3h0M816.5 1270.5h0M816.9 1269.0h0M817.2 1267.7h0M817.5 1258.9h0M817.9 1255.3h0M818.2 1244.6h0M819.4 1251.9h0M820.6 1248.0h0M821.8 1252.1h0M823.0 1247.7h0M824.3 1246.4h0M825.5 1247.9h0M826.7 1245.5h0M827.9 1244.1h0M829.1 1250.5h0M830.3 1249.8h0M831.5 1248.3h0M832.8 1251.0h0M834.0 1251.8h0M835.2 1252.0h0M836.4 1253.3h0M837.7 1256.1h0M838.9 1259.8h0M840.1 1263.0h0M841.3 1265.1h0M842.5 1265.3h0M843.7 1269.4h0M844.9 1273.6h0M846.1 1271.4h0M847.3 1275.7h0M848.6 1279.5h0M849.8 1279.6h0M851.0 1280.1h0M851.7 1285.1h0M852.4 1288.2h0M853.3 1296.7h0M854.2 1297.6h0M855.2 1298.6h0M856.1 1304.5h0M857.3 1312.6h0M858.5 1316.4h0M859.7 1318.6h0M860.9 1314.9h0M862.1 1316.6h0M863.4 1313.3h0M864.6 1312.3h0M865.8 1312.6h0M867.0 1309.0h0M868.2 1310.6h0M869.5 1306.2h0M870.7 1305.5h0M871.9 1304.7h0M873.1 1306.2h0M874.3 1303.5h0M874.3 1297.8h0M874.3 1289.3h0M874.3 1287.4h0M874.3 1285.9h0M874.9 1281.7h0M875.5 1271.0h0M876.2 1271.4h0M876.8 1265.6h0M878.0 1268.4h0M879.2 1266.9h0M880.5 1262.6h0M881.7 1268.6h0M882.9 1260.8h0M884.1 1267.0h0M885.3 1260.9h0M886.5 1262.0h0M887.7 1268.4h0M888.9 1262.8h0M890.1 1264.0h0M891.3 1266.8h0M892.5 1260.3h0M893.8 1259.2h0M895.0 1252.1h0M896.2 1257.9h0M897.4 1259.0h0M898.6 1260.6h0M899.8 1264.8h0M901.1 1264.8h0M902.3 1268.3h0M903.5 1268.5h0M904.7 1277.1h0M905.1 1275.0h0M905.6 1269.5h0M906.0 1265.2h0M906.4 1259.8h0M906.8 1250.4h0M907.2 1244.7h0M913.3 1297.4h0M914.3 1300.5h0M915.2 1307.1h0M916.2 1308.0h0M917.1 1310.7h0M918.1 1318.7h0M919.3 1313.3h0M920.5 1307.9h0M921.8 1307.9h0M923.0 1304.7h0M924.2 1301.3h0M925.4 1300.3h0M926.6 1306.4h0M927.8 1312.3h0M929.1 1312.8h0M930.3 1309.1h0M931.5 1309.7h0M932.8 1302.8h0M934.0 1300.4h0M935.2 1293.8h0M936.0 1290.5h0M936.8 1281.4h0M937.6 1285.9h0M937.6 1275.1h0M937.6 1274.7h0M937.6 1267.6h0M937.6 1265.9h0M938.8 1257.2h0M940.0 1254.4h0M941.2 1253.1h0M942.4 1250.3h0M943.6 1241.5h0M944.9 1247.1h0M946.1 1239.3h0M947.3 1241.6h0M947.9 1237.7h0M948.5 1229.9h0M949.2 1226.3h0M949.8 1221.9h0M951.0 1222.5h0M952.2 1222.7h0M953.4 1222.6h0M954.6 1218.6h0M955.8 1221.9h0M957.0 1214.4h0M958.2 1222.2h0M959.5 1217.2h0M960.7 1220.5h0M961.9 1218.6h0M963.1 1220.6h0M964.3 1219.3h0M965.6 1224.4h0M966.8 1230.3h0M968.0 1226.6h0M968.5 1230.8h0M969.1 1235.7h0M969.6 1242.3h0M970.1 1244.5h0M970.6 1249.7h0M971.2 1255.0h0M971.7 1262.7h0M972.4 1256.8h0M973.1 1246.5h0M973.8 1242.9h0M974.4 1239.7h0M975.1 1237.0h0M975.8 1232.5h0M976.5 1224.5h0M977.1 1234.8h0M977.8 1232.5h0M978.4 1240.7h0M979.0 1244.6h0M980.0 1250.1h0M980.9 1251.1h0M981.9 1257.0h0M982.8 1256.3h0M983.8 1260.3h0M985.0 1265.3h0M986.2 1270.6h0M987.5 1273.2h0M988.7 1271.7h0M989.9 1276.5h0M991.1 1272.4h0M992.3 1272.0h0M993.6 1260.6h0M994.8 1259.9h0M996.0 1256.5h0M996.0 1251.5h0M996.0 1253.9h0M996.0 1242.1h0M996.0 1238.3h0M996.0 1235.6h0M996.0 1235.1h0M996.0 1227.5h0M997.2 1229.0h0M998.4 1226.8h0M999.7 1221.8h0M1000.9 1215.6h0M1002.1 1217.6h0M1003.3 1212.9h0M1004.5 1216.8h0M1005.8 1206.6h0M1007.0 1201.6h0M1008.2 1201.7h0M1009.4 1198.8h0M1010.6 1194.2h0M1011.8 1197.6h0M1013.0 1197.1h0M1014.2 1195.4h0M1015.4 1192.6h0M1016.6 1192.2h0M1017.9 1189.2h0M1019.1 1195.7h0M1020.3 1195.7h0M1021.5 1192.1h0M1022.7 1198.1h0M1024.0 1210.3h0M1025.2 1201.7h0M1026.4 1203.3h0M1027.6 1214.1h0M1028.8 1215.8h0M1030.0 1220.1h0M1030.6 1228.0h0M1031.2 1230.8h0M1031.9 1238.7h0M1032.5 1242.2h0M1033.7 1242.4h0M1034.9 1237.9h0M1036.2 1230.0h0M1037.4 1238.0h0M1038.6 1228.0h0M1039.8 1233.9h0M1040.1 1236.4h0M1040.5 1236.7h0M1040.8 1245.2h0M1041.2 1252.1h0M1041.5 1251.5h0M1041.9 1259.1h0M1042.2 1261.6h0M1043.5 1260.2h0M1044.7 1260.4h0M1046.0 1264.7h0M1047.2 1262.4h0M1048.5 1259.7h0M1049.7 1258.8h0M1051.0 1258.6h0M1052.2 1258.3h0M1053.4 1256.4h0M1054.6 1249.6h0M1055.8 1255.2h0M1057.0 1248.8h0M1058.2 1242.7h0M1059.5 1250.0h0M1060.7 1243.3h0M1061.9 1244.5h0M1063.1 1243.1h0M1064.3 1240.1h0M1065.2 1238.6h0M1066.2 1231.8h0M1067.1 1227.3h0M1068.0 1220.8h0M1068.6 1218.1h0M1069.2 1211.5h0M1069.8 1209.9h0M1070.4 1208.8h0M1071.6 1203.6h0M1072.8 1197.8h0M1074.1 1188.8h0M1075.3 1190.9h0M1076.5 1190.3h0M1077.7 1193.2h0M1078.9 1181.2h0M1080.2 1186.9h0M1081.4 1185.7h0M1082.6 1189.3h0M1083.8 1183.1h0M1085.0 1184.7h0M1086.2 1194.3h0M1087.5 1193.3h0M1088.7 1187.7h0M1089.9 1195.5h0M1090.1 1203.5h0M1090.4 1202.5h0M1090.6 1210.2h0M1090.9 1213.2h0M1091.1 1213.4h0M1092.3 1214.1h0M1093.5 1217.3h0M1094.7 1216.0h0M1095.9 1209.7h0M1097.2 1212.8h0M1098.4 1206.4h0M1099.6 1207.4h0M1100.8 1205.2h0M1100.8 1206.3h0M1100.8 1215.1h0M1100.8 1217.7h0M1100.8 1216.0h0M1100.8 1225.5h0M1100.8 1230.1h0M1100.8 1234.5h0M1102.0 1230.9h0M1103.2 1228.2h0M1104.5 1220.2h0M1105.7 1225.9h0M1106.1 1228.1h0M1106.5 1233.0h0M1106.9 1236.1h0M1107.3 1241.4h0M1107.7 1245.1h0M1108.1 1247.2h0M1109.3 1246.0h0M1110.5 1250.1h0M1111.8 1252.5h0M1113.0 1250.2h0M1114.2 1253.8h0M1115.5 1245.5h0M1116.7 1248.5h0M1117.9 1247.3h0M1119.1 1247.4h0M1120.3 1243.9h0M1121.5 1233.0h0M1122.7 1231.5h0M1123.2 1224.5h0M1123.7 1218.0h0M1124.2 1216.1h0M1124.7 1209.1h0M1125.2 1211.8h0M1126.4 1206.8h0M1127.6 1205.9h0M1128.8 1201.3h0M1130.1 1191.4h0M1131.3 1197.6h0M1132.5 1193.2h0M1133.7 1184.0h0M1134.9 1188.4h0M1136.1 1190.2h0M1137.3 1191.3h0M1138.5 1183.2h0M1139.8 1187.5h0M1141.0 1185.6h0M1142.2 1183.5h0M1143.4 1182.5h0M1144.6 1185.2h0M1145.8 1185.8h0M1147.1 1186.5h0M1148.3 1184.1h0M1149.5 1182.2h0M1150.7 1194.2h0M1152.0 1198.9h0M1153.2 1198.8h0M1154.4 1205.1h0M1155.6 1209.2h0M1156.8 1204.1h0M1158.1 1212.0h0M1159.3 1219.0h0M1160.5 1215.0h0M1161.7 1214.2h0M1162.9 1218.4h0M1164.1 1209.4h0M1165.3 1206.6h0M1166.5 1201.6h0M1167.3 1207.7h0M1168.1 1206.8h0M1169.0 1212.6h0M1169.8 1216.6h0M1170.6 1227.5h0M1171.4 1229.3h0M1172.2 1236.7h0M1173.0 1232.2h0M1173.8 1240.0h0M1174.7 1240.9h0M1175.5 1230.1h0M1176.4 1222.6h0M1177.3 1220.8h0M1178.2 1217.3h0M1179.0 1213.5h0M1179.9 1212.3h0M1181.1 1214.0h0M1182.3 1216.1h0M1183.5 1215.1h0M1184.8 1213.7h0M1186.0 1215.3h0M1187.2 1214.3h0M1188.4 1223.3h0M1188.6 1218.6h0M1188.7 1211.0h0M1188.9 1203.8h0M1189.1 1203.5h0M1189.3 1198.5h0M1189.4 1193.1h0M1189.6 1185.0h0M1190.8 1184.3h0M1192.1 1177.7h0M1193.3 1176.7h0M1194.5 1175.7h0M1195.7 1174.7h0M1196.9 1171.8h0M1198.2 1176.5h0M1199.4 1173.8h0M1200.6 1174.6h0M1201.8 1172.6h0M1203.0 1171.4h0M1204.2 1169.9h0M1205.4 1165.1h0M1206.7 1162.4h0M1207.9 1163.9h0M1209.1 1167.4h0M1210.3 1167.5h0M1210.9 1170.2h0M1211.5 1174.6h0M1212.2 1183.9h0M1212.8 1182.6h0M1213.4 1183.6h0M1214.0 1188.7h0M1215.2 1190.6h0M1216.4 1191.8h0M1217.6 1190.2h0M1218.8 1186.1h0M1220.0 1187.3h0M1221.3 1183.4h0M1222.5 1180.0h0M1223.7 1179.3h0M1224.9 1180.8h0M1226.1 1179.8h0M1226.8 1178.6h0M1227.6 1183.2h0M1228.3 1190.7h0M1229.1 1200.6h0M1229.8 1196.0h0M1231.1 1197.0h0M1232.4 1202.8h0M1233.6 1203.5h0M1234.8 1200.8h0M1236.1 1202.7h0M1237.3 1204.4h0M1238.5 1198.7h0M1239.7 1203.8h0M1240.9 1205.9h0M1242.2 1207.1h0M1243.4 1208.1h0M1244.6 1205.1h0M1245.8 1197.1h0M1247.0 1200.4h0M1248.2 1194.7h0M1249.5 1186.6h0M1250.7 1186.9h0M1251.9 1182.6h0M1251.9 1174.6h0M1251.9 1163.7h0M1251.9 1163.9h0M1253.1 1159.5h0M1254.3 1155.6h0M1255.6 1154.0h0M1256.8 1147.6h0M1258.0 1148.4h0M1259.2 1149.3h0M1260.4 1137.6h0M1261.6 1142.4h0M1262.8 1136.9h0M1264.1 1138.6h0M1265.3 1135.6h0M1266.5 1138.2h0M1267.0 1137.2h0M1267.5 1145.4h0M1268.0 1145.7h0M1268.6 1152.8h0M1269.1 1156.4h0M1269.6 1163.8h0M1270.1 1161.0h0M1270.4 1156.6h0M1270.6 1159.2h0M1270.9 1151.6h0M1271.1 1150.2h0M1271.4 1138.0h0M1272.6 1143.4h0M1273.8 1146.5h0M1275.1 1151.6h0M1276.3 1148.8h0M1277.5 1149.8h0M1278.7 1155.0h0M1278.7 1156.9h0M1278.7 1159.2h0M1278.7 1167.5h0M1278.7 1164.3h0M1278.7 1171.0h0M1279.9 1175.7h0M1281.1 1169.0h0M1282.3 1167.7h0M1283.5 1167.9h0M1284.7 1168.3h0M1285.9 1170.3h0M1287.1 1169.8h0M1288.4 1174.6h0M1289.6 1182.6h0M1290.8 1183.1h0M1290.8 1185.3h0M1290.8 1193.1h0M1290.8 1197.5h0M1292.0 1196.4h0M1293.2 1183.7h0M1294.4 1180.9h0M1295.7 1177.0h0M1296.9 1176.0h0M1298.1 1169.9h0M1299.3 1177.0h0M1300.5 1169.5h0M1301.8 1182.3h0M1303.0 1180.8h0M1304.2 1184.7h0M1305.4 1189.8h0M1306.7 1191.7h0M1307.9 1191.2h0M1309.1 1200.8h0M1310.3 1193.9h0M1311.5 1186.5h0M1312.7 1184.0h0M1313.1 1176.1h0M1313.4 1171.4h0M1313.8 1169.6h0M1314.1 1167.0h0M1314.5 1162.0h0M1314.8 1155.2h0M1315.2 1149.3h0M1316.2 1144.0h0M1317.1 1148.5h0M1318.1 1140.9h0M1319.0 1133.3h0M1320.0 1134.3h0M1321.2 1130.5h0M1322.4 1125.9h0M1323.7 1123.4h0M1324.9 1126.1h0M1326.1 1121.8h0M1327.3 1123.4h0M1328.5 1118.7h0M1329.8 1114.9h0M1331.0 1113.7h0M1332.2 1114.8h0M1333.4 1118.9h0M1334.7 1120.4h0M1335.9 1122.8h0M1337.1 1123.8h0M1338.3 1124.3h0M1339.5 1131.1h0M1340.7 1133.7h0M1341.9 1142.1h0M1343.1 1134.8h0M1344.3 1134.3h0M1345.6 1131.2h0M1346.8 1129.4h0M1348.0 1127.9h0M1349.2 1130.3h0M1350.5 1123.1h0M1351.7 1117.4h0M1352.9 1118.1h0M1353.5 1125.8h0M1354.1 1130.1h0M1354.7 1134.2h0M1355.3 1143.7h0M1356.1 1146.3h0M1356.9 1148.4h0M1357.7 1156.3h0M1358.1 1153.5h0M1358.6 1160.7h0M1359.0 1162.9h0M1360.2 1165.8h0M1361.4 1169.8h0M1362.6 1164.3h0M1363.8 1170.1h0M1365.1 1163.2h0M1366.3 1169.9h0M1367.5 1161.6h0M1368.7 1164.1h0M1369.9 1166.9h0M1371.1 1161.7h0M1372.3 1160.1h0M1373.6 1157.4h0M1374.8 1155.7h0M1376.0 1152.5h0M1376.0 1146.1h0M1376.0 1143.7h0M1376.0 1140.6h0M1376.0 1133.6h0M1377.2 1134.1h0M1378.4 1134.4h0M1379.7 1122.0h0M1380.9 1121.8h0M1382.1 1119.3h0M1382.7 1115.3h0M1383.3 1110.7h0M1383.9 1103.6h0M1384.5 1100.6h0M1385.7 1096.2h0M1387.0 1091.5h0M1388.2 1091.4h0M1389.4 1087.5h0M1390.6 1082.9h0M1391.8 1082.4h0M1393.1 1088.1h0M1394.3 1085.4h0M1395.5 1084.4h0M1396.7 1083.5h0M1397.9 1087.4h0M1399.1 1089.1h0M1400.3 1088.6h0M1401.6 1090.5h0M1402.8 1094.9h0M1404.0 1095.8h0M1405.2 1096.2h0M1406.4 1095.3h0M1406.4 1096.4h0M1406.4 1106.4h0M1406.4 1112.6h0M1406.4 1116.3h0M1406.4 1120.3h0M1406.4 1122.2h0M1407.6 1117.8h0M1408.8 1112.1h0M1410.1 1110.8h0M1411.3 1102.1h0M1412.5 1104.0h0M1413.7 1102.3h0M1414.9 1101.4h0M1416.2 1104.3h0M1417.4 1102.0h0M1418.6 1106.4h0M1419.8 1109.6h0M1420.5 1122.0h0M1421.1 1118.1h0M1421.8 1127.7h0M1422.4 1130.3h0M1423.0 1133.5h0M1423.7 1140.2h0M1424.3 1137.3h0M1425.6 1147.7h0M1426.9 1152.8h0M1428.2 1150.8h0M1429.5 1152.3h0M1430.8 1155.3h0M1432.1 1159.1h0M1433.4 1157.0h0M1434.7 1159.6h0M1436.0 1161.6h0M1437.0 1155.1h0M1437.9 1152.8h0M1438.9 1148.5h0M1439.4 1144.6h0M1439.9 1135.2h0M1440.4 1131.5h0M1440.9 1126.9h0M1441.4 1126.9h0M1441.8 1120.0h0M1442.3 1110.5h0M1442.8 1107.1h0M1444.0 1113.1h0M1445.2 1106.1h0M1446.3 1099.0h0M1447.5 1097.2h0M1448.7 1097.4h0M1449.9 1099.9h0M1451.0 1099.4h0M1452.2 1093.1h0M1453.3 1092.3h0M1454.5 1097.3h0M1455.6 1090.9h0M1456.8 1099.3h0M1457.9 1097.4h0M1459.0 1098.2h0M1460.2 1102.9h0M1461.3 1102.2h0M1462.3 1103.1h0M1463.3 1105.7h0M1464.2 1114.4h0M1465.2 1120.2h0M1466.2 1127.0h0M1466.8 1111.3h0M1467.5 1117.2h0M1468.1 1110.4h0M1468.5 1117.6h0M1468.9 1120.6h0M1469.3 1123.8h0M1469.8 1129.3h0M1470.2 1134.1h0M1470.6 1136.1h0M1471.0 1142.4h0M1472.2 1140.4h0M1473.5 1136.1h0M1474.7 1130.7h0M1475.9 1128.1h0M1477.1 1130.7h0M1478.3 1128.1h0M1479.6 1124.3h0M1480.8 1118.2h0M1481.4 1127.5h0M1482.1 1128.0h0M1482.7 1127.4h0M1483.2 1141.8h0M1483.7 1138.2h0M1484.2 1152.9h0M1484.7 1152.9h0M1485.9 1150.5h0M1487.2 1145.4h0M1488.4 1150.0h0M1489.7 1156.1h0M1490.9 1155.9h0M1492.2 1153.1h0M1493.4 1147.9h0M1494.6 1151.3h0M1495.9 1151.5h0M1497.1 1153.4h0M1498.3 1151.7h0M1499.5 1152.8h0M1500.8 1147.4h0M1502.0 1149.9h0M1503.2 1155.4h0M1504.7 1143.1h0M1506.1 1145.2h0M1506.3 1144.1h0M1506.5 1134.7h0M1506.7 1124.3h0M1506.9 1126.6h0M1507.1 1113.4h0M1508.5 1114.5h0M1510.0 1107.6h0M1511.2 1111.1h0M1512.3 1109.9h0M1513.5 1106.3h0M1514.7 1109.7h0M1515.8 1106.4h0M1517.0 1101.5h0M1518.2 1099.2h0M1519.4 1107.6h0M1520.5 1098.8h0M1521.7 1100.0h0M1522.8 1099.4h0M1524.0 1099.2h0M1525.1 1097.0h0M1526.2 1101.8h0M1527.4 1102.7h0M1528.5 1106.5h0M1528.5 1107.3h0M1528.5 1109.3h0M1528.5 1115.5h0M1529.7 1119.7h0M1531.0 1121.8h0M1532.2 1124.5h0M1533.5 1122.9h0M1534.7 1126.8h0M1536.0 1127.1h0M1537.2 1132.7h0M1537.9 1123.2h0M1538.6 1119.0h0M1539.3 1115.4h0M1540.0 1112.5h0M1540.7 1102.0h0M1541.4 1098.4h0M1542.1 1094.3h0M1543.3 1093.1h0M1544.4 1106.3h0M1545.6 1109.6h0M1546.7 1110.7h0M1547.9 1123.7h0" stroke="#0000ff" stroke-width="14.70" stroke-linecap="round" fill="none"/>
<circle cx="1184.4" cy="220.5" r="7.5" fill="#ff0000"/>
<circle cx="1184.4" cy="309.9" r="7.5" fill="#0000ff"/>
<text x="802.5" y="106.6" font-size="85.6" fill="#000000" textLength="228.8" lengthAdjust="spacingAndGlyphs">ALGO</text>
<text x="827.8" y="1702.7" font-size="86.8" fill="#262626" textLength="175.5" lengthAdjust="spacingAndGlyphs">Year</text>
<text x="1313.2" y="249.2" font-size="70.9" fill="#000000" textLength="116.5" lengthAdjust="spacingAndGlyphs">IGS</text>
<text x="1312.5" y="338.0" font-size="71.0" fill="#000000" textLength="166.2" lengthAdjust="spacingAndGlyphs">JTRF</text>
<text x="179.2" y="1588.7" font-size="75.6" fill="#262626" textLength="165.9" lengthAdjust="spacingAndGlyphs">1995</text>
<text x="512.6" y="1590.8" font-size="76.0" fill="#262626" textLength="169.0" lengthAdjust="spacingAndGlyphs">2000</text>
<text x="827.5" y="1590.8" font-size="76.0" fill="#262626" textLength="168.4" lengthAdjust="spacingAndGlyphs">2005</text>
<text x="1141.5" y="1590.8" font-size="76.0" fill="#262626" textLength="168.0" lengthAdjust="spacingAndGlyphs">2010</text>
<text x="1455.4" y="1591.0" font-size="76.1" fill="#262626" textLength="168.5" lengthAdjust="spacingAndGlyphs">2015</text>
<text x="167.5" y="165.8" font-size="75.3" fill="#262626" textLength="83.8" lengthAdjust="spacingAndGlyphs">20</text>
<text x="210.0" y="363.8" font-size="76.8" fill="#262626" textLength="40.9" lengthAdjust="spacingAndGlyphs">0</text>
<text x="124.4" y="557.9" font-size="75.9" fill="#262626" textLength="125.4" lengthAdjust="spacingAndGlyphs">−20</text>
<text x="201.1" y="704.0" font-size="76.7" fill="#262626" textLength="42.1" lengthAdjust="spacingAndGlyphs">5</text>
<text x="210.2" y="839.5" font-size="76.6" fill="#262626" textLength="40.8" lengthAdjust="spacingAndGlyphs">0</text>
<text x="172.1" y="969.7" font-size="77.8" fill="#262626" textLength="85.8" lengthAdjust="spacingAndGlyphs">−5</text>
<text x="208.6" y="1178.7" font-size="75.7" fill="#262626" textLength="43.3" lengthAdjust="spacingAndGlyphs">2</text>
<text x="210.1" y="1270.6" font-size="76.9" fill="#262626" textLength="40.3" lengthAdjust="spacingAndGlyphs">0</text>
<text x="166.6" y="1362.7" font-size="75.7" fill="#262626" textLength="85.4" lengthAdjust="spacingAndGlyphs">−2</text>
<text x="178.5" y="1449.0" font-size="76.8" fill="#262626" textLength="83.6" lengthAdjust="spacingAndGlyphs">−4</text>
<text transform="translate(95.1,443.2) rotate(-90)" x="0" y="0" font-size="86.8" fill="#262626" textLength="216.3" lengthAdjust="spacingAndGlyphs">N[cm]</text>
<text transform="translate(99.0,915.1) rotate(-90)" x="0" y="0" font-size="87.0" fill="#262626" textLength="210.6" lengthAdjust="spacingAndGlyphs">E[cm]</text>
<text transform="translate(99.0,1393.0) rotate(-90)" x="0" y="0" font-size="87.0" fill="#262626" textLength="214.3" lengthAdjust="spacingAndGlyphs">U[cm]</text>
</svg>
</body></html>
